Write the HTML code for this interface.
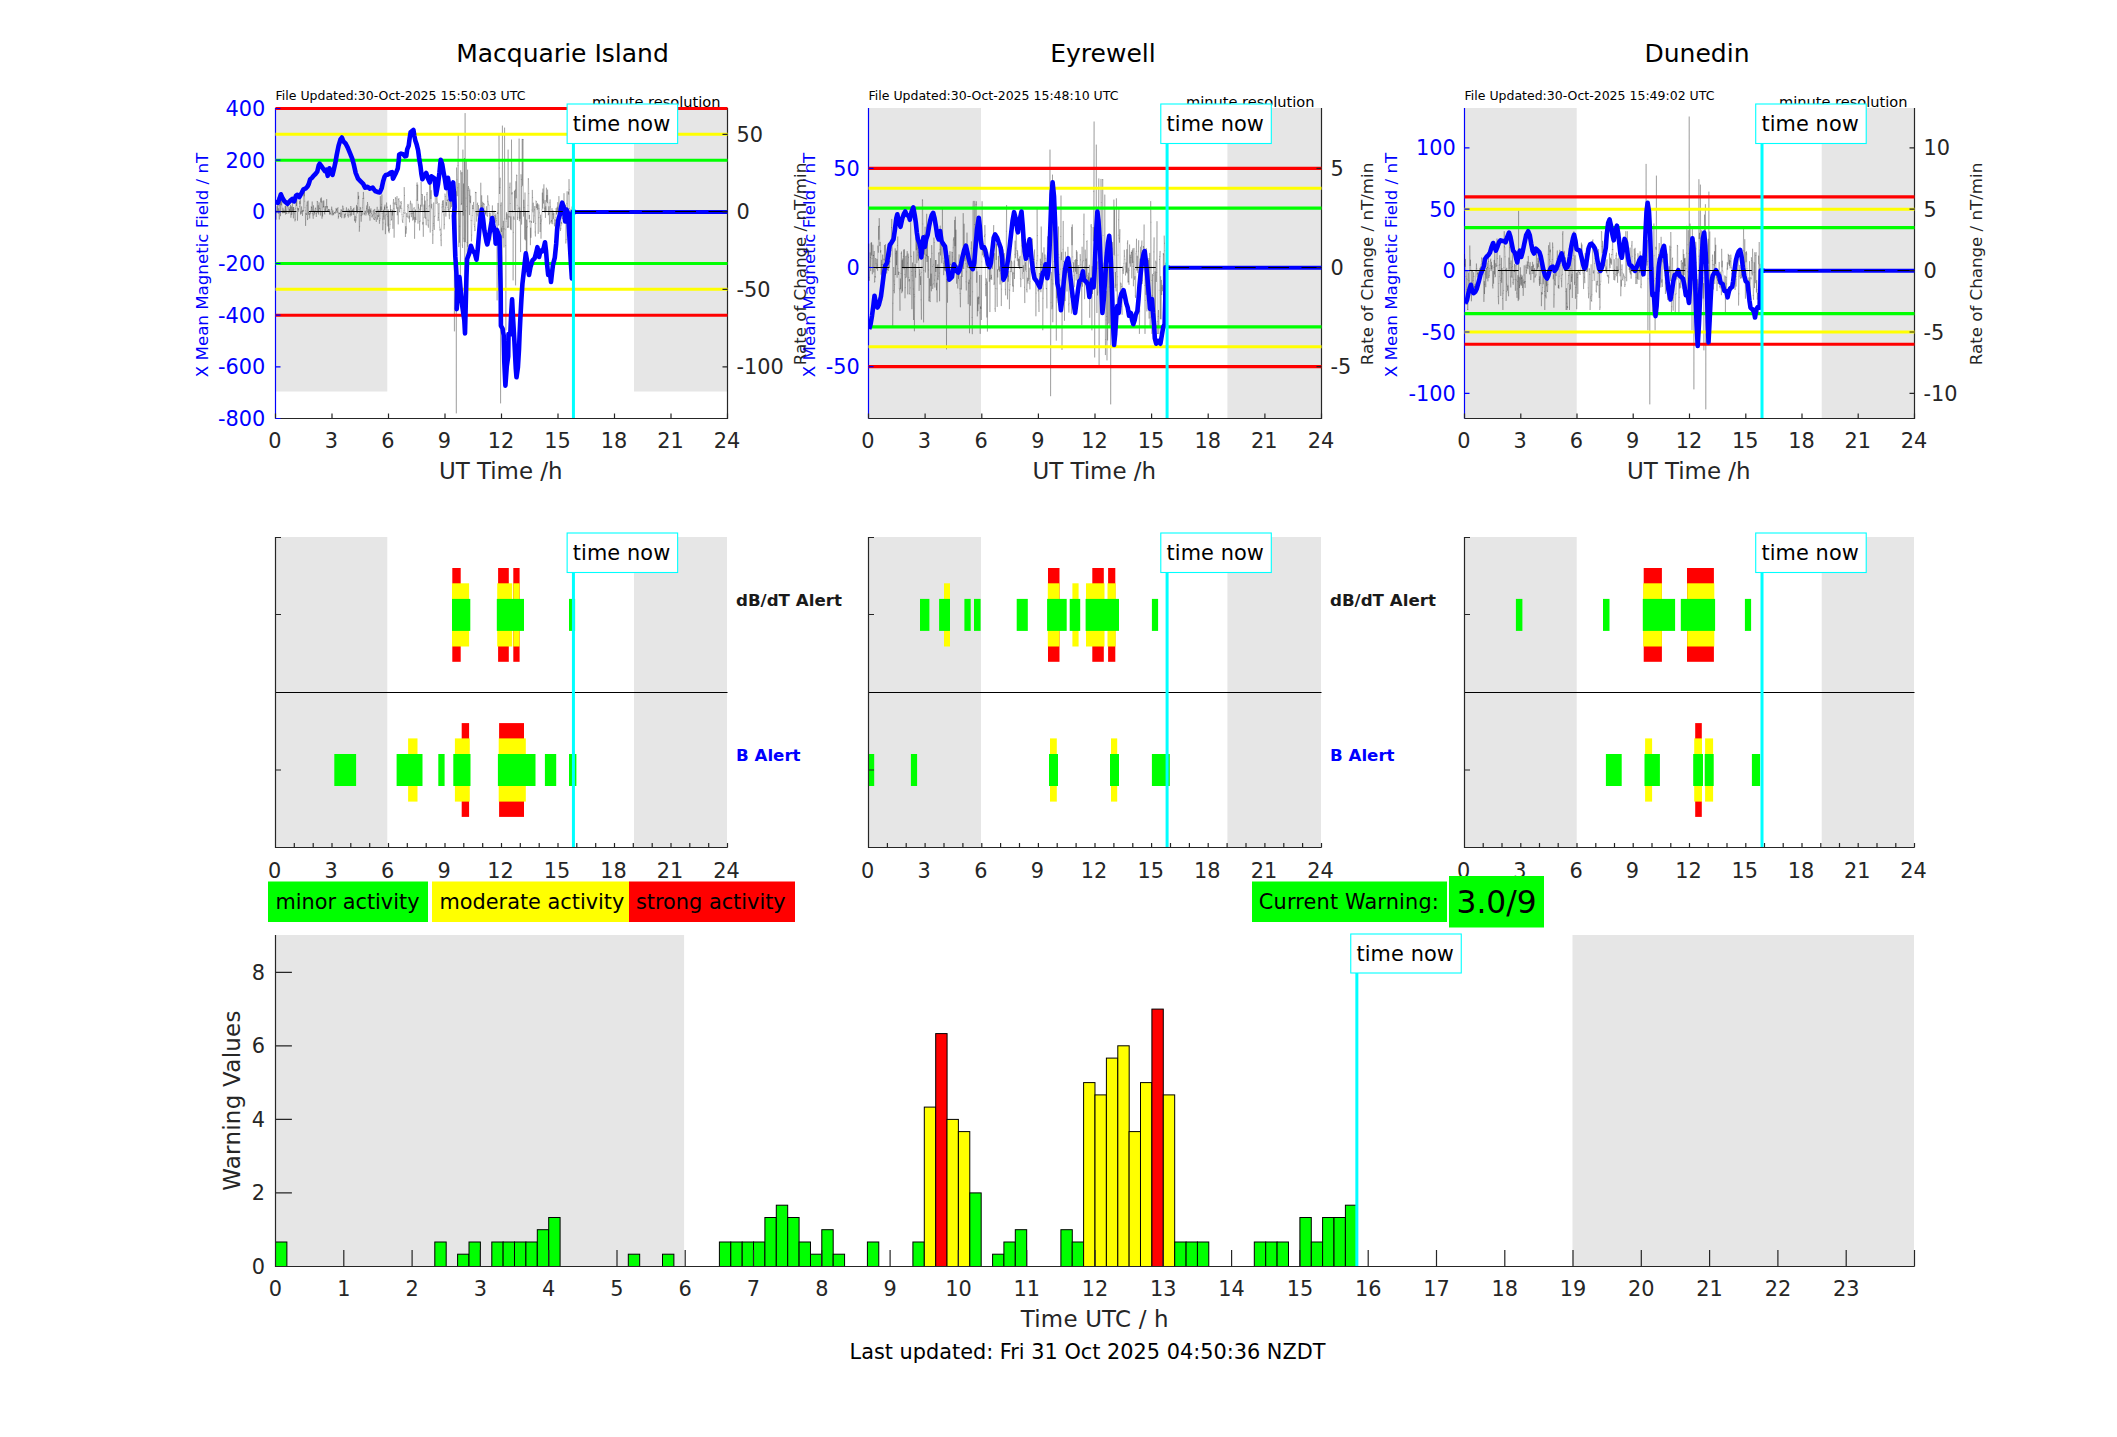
<!DOCTYPE html>
<html lang="en"><head><meta charset="utf-8"><title>Geomagnetic activity</title>
<style>html,body{margin:0;padding:0;background:#fff}body{width:2117px;height:1437px;overflow:hidden}svg text{white-space:pre}</style>
</head><body>
<svg width="2117" height="1437" viewBox="0 0 2117 1437" font-family='"DejaVu Sans","Liberation Sans",sans-serif' style="display:block">
<rect x="275" y="108" width="112.3" height="283.5" fill="#e6e6e6"/>
<rect x="634.0" y="108" width="93.0" height="283.5" fill="#e6e6e6"/>
<clipPath id="cp0"><rect x="275" y="106" width="453" height="312"/></clipPath>
<path d="M275.5 418.5H727.5V108" fill="none" stroke="#262626" stroke-width="1.2"/>
<path d="M275.5 108V418.5" fill="none" stroke="#0000ff" stroke-width="1.2"/>
<path d="M275.5 418.5v-5.0M332.0 418.5v-5.0M388.5 418.5v-5.0M445.0 418.5v-5.0M501.5 418.5v-5.0M558.0 418.5v-5.0M614.5 418.5v-5.0M671.0 418.5v-5.0M727.5 418.5v-5.0" stroke="#262626" stroke-width="1.2" fill="none"/>
<g clip-path="url(#cp0)">
<path d="M275.5 204.7L275.8 213.0M276.1 219.3L276.4 210.9M276.8 212.1L277.1 206.6M277.4 210.8L277.7 205.7M278.0 200.6L278.3 213.4M278.6 208.7L279.0 210.6M279.3 219.1L279.6 205.4M279.9 204.6L280.2 202.1M280.5 215.8L280.8 195.4M281.1 204.0L281.5 205.0M281.8 200.7L282.1 212.1M282.4 212.6L282.7 213.0M283.0 208.1L283.3 212.6M283.7 212.3L284.0 210.0M284.3 211.9L284.6 212.7M284.9 212.3L285.2 206.5M285.5 214.2L285.9 206.0M286.2 210.2L286.5 213.1M286.8 213.7L287.1 211.4M287.4 206.3L287.7 206.2M288.1 205.0L288.4 208.1M288.7 213.0L289.0 213.0M289.3 209.3L289.6 211.9M289.9 207.1L290.3 211.1M290.6 205.2L290.9 217.3M291.2 214.4L291.5 206.8M291.8 214.2L292.1 210.1M292.4 199.7L292.8 211.5M293.1 207.6L293.4 218.0M293.7 207.4L294.0 209.6M294.3 212.1L294.6 213.8M295.0 221.0L295.3 219.6M295.6 208.7L295.9 203.1M296.2 200.7L296.5 205.7M296.8 199.8L297.2 207.9M297.5 220.3L297.8 208.5M298.1 209.4L298.4 208.7M298.7 211.4L299.0 209.0M299.4 206.7L299.7 201.5M300.0 203.7L300.3 198.3M300.6 214.2L300.9 211.8M301.2 213.3L301.6 206.8M301.9 211.4L302.2 211.3M302.5 215.5L302.8 210.3M303.1 211.5L303.4 210.5M303.7 192.3L304.1 195.9M304.4 192.3L304.7 201.2M305.0 207.7L305.3 210.8M305.6 225.5L305.9 213.5M306.3 214.5L306.6 214.2M306.9 205.7L307.2 201.9M307.5 219.7L307.8 218.8M308.1 201.0L308.5 212.6M308.8 214.6L309.1 213.1M309.4 213.6L309.7 218.1M310.0 214.4L310.3 212.6M310.7 213.3L311.0 210.4M311.3 206.8L311.6 207.5M311.9 210.5L312.2 201.9M312.5 213.6L312.9 215.1M313.2 218.4L313.5 205.7M313.8 210.9L314.1 214.9M314.4 212.2L314.7 213.0M315.0 210.5L315.4 208.3M315.7 208.0L316.0 213.7M316.3 216.6L316.6 213.7M316.9 212.3L317.2 201.3M317.6 201.9L317.9 212.3M318.2 205.6L318.5 214.1M318.8 210.2L319.1 202.8M319.4 208.3L319.8 208.4M320.1 211.6L320.4 215.1M320.7 198.8L321.0 201.9M321.3 197.8L321.6 202.2M322.0 218.3L322.3 212.1M322.6 216.1L322.9 201.2M323.2 207.2L323.5 206.6M323.8 200.8L324.2 206.9M324.5 213.0L324.8 214.1M325.1 209.7L325.4 206.6M325.7 211.4L326.0 210.3M326.3 206.5L326.7 199.5M327.0 208.0L327.3 206.4M327.6 210.8L327.9 211.4M328.2 210.5L328.5 209.3M328.9 210.3L329.2 209.4M329.5 214.2L329.8 211.0M330.1 213.1L330.4 213.0M330.7 213.6L331.1 214.8M331.4 209.4L331.7 207.0M332.0 209.2L332.3 211.9M332.6 215.0L332.9 210.7M333.3 213.4L333.6 214.8M333.9 213.6L334.2 213.1M334.5 212.6L334.8 212.4M335.1 212.2L335.5 213.2M335.8 211.4L336.1 208.3M336.4 210.4L336.7 209.3M337.0 212.6L337.3 211.8M337.6 208.3L338.0 207.7M338.3 218.2L338.6 216.4M338.9 213.1L339.2 213.2M339.5 213.2L339.8 213.8M340.2 213.0L340.5 216.5M340.8 211.3L341.1 209.5M341.4 210.6L341.7 217.8M342.0 214.1L342.4 210.4M342.7 206.0L343.0 206.8M343.3 209.2L343.6 208.9M343.9 210.9L344.2 217.9M344.6 214.9L344.9 214.5M345.2 217.0L345.5 214.3M345.8 213.3L346.1 210.5M346.4 207.7L346.8 209.2M347.1 210.9L347.4 211.0M347.7 215.2L348.0 215.0M348.3 217.2L348.6 209.0M348.9 211.7L349.3 212.2M349.6 210.3L349.9 214.4M350.2 216.1L350.5 214.1M350.8 206.4L351.1 208.5M351.5 215.2L351.8 210.7M352.1 210.5L352.4 210.8M352.7 211.4L353.0 209.4M353.3 214.6L353.7 208.4M354.0 208.0L354.3 211.9M354.6 220.8L354.9 219.5M355.2 216.3L355.5 222.3M355.9 220.2L356.2 217.3M356.5 205.3L356.8 211.2M357.1 206.8L357.4 213.0M357.7 203.2L358.1 192.3M358.4 198.7L358.7 196.2M359.0 209.3L359.3 231.3M359.6 226.8L359.9 212.4M360.2 207.3L360.6 208.3M360.9 215.5L361.2 221.3M361.5 215.8L361.8 211.1M362.1 214.8L362.4 207.8M362.8 198.7L363.1 198.3M363.4 192.3L363.7 198.2M364.0 213.6L364.3 214.8M364.6 213.4L365.0 211.5M365.3 211.0L365.6 212.1M365.9 215.1L366.2 213.6M366.5 208.3L366.8 205.8M367.2 212.3L367.5 202.4M367.8 204.8L368.1 211.6M368.4 214.9L368.7 209.6M369.0 213.4L369.4 206.7M369.7 215.6L370.0 220.3M370.3 210.1L370.6 212.3M370.9 208.7L371.2 211.3M371.5 213.5L371.9 216.9M372.2 217.0L372.5 215.6M372.8 214.7L373.1 211.3M373.4 210.2L373.7 218.6M374.1 219.5L374.4 219.6M374.7 209.3L375.0 213.4M375.3 213.6L375.6 217.7M375.9 219.0L376.3 221.5M376.6 212.5L376.9 211.2M377.2 207.2L377.5 219.2M377.8 215.9L378.1 215.9M378.5 216.5L378.8 210.0M379.1 215.2L379.4 223.4M379.7 220.4L380.0 218.6M380.3 196.5L380.7 210.9M381.0 206.9L381.3 210.0M381.6 204.3L381.9 194.8M382.2 213.6L382.5 219.1M382.8 229.9L383.2 222.9M383.5 210.1L383.8 216.2M384.1 219.2L384.4 207.0M384.7 209.4L385.0 205.0M385.4 233.8L385.7 224.1M386.0 215.2L386.3 214.5M386.6 202.9L386.9 207.7M387.2 207.0L387.6 216.3M387.9 226.0L388.2 209.8M388.5 231.1L388.8 212.2M389.1 232.8L389.4 229.9M389.8 228.6L390.1 224.3M390.4 205.2L390.7 211.0M391.0 209.5L391.3 220.2M391.6 219.5L392.0 211.3M392.3 215.1L392.6 210.1M392.9 228.4L393.2 203.1M393.5 199.4L393.8 208.4M394.1 237.3L394.5 211.8M394.8 202.9L395.1 204.3M395.4 197.6L395.7 198.2M396.0 202.7L396.3 204.4M396.7 208.4L397.0 196.5M397.3 214.9L397.6 211.9M397.9 207.6L398.2 224.0M398.5 199.3L398.9 198.6M399.2 201.1L399.5 211.5M399.8 212.0L400.1 205.8M400.4 208.4L400.7 202.6M401.1 201.4L401.4 203.3M401.7 208.6L402.0 214.4M402.3 220.1L402.6 221.9M402.9 222.5L403.3 216.3M403.6 212.6L403.9 210.3M404.2 187.5L404.5 195.5M404.8 213.3L405.1 212.8M405.4 236.6L405.8 226.6M406.1 233.3L406.4 228.9M406.7 213.5L407.0 216.6M407.3 217.1L407.6 206.6M408.0 204.3L408.3 205.7M408.6 207.8L408.9 218.2M409.2 216.0L409.5 222.0M409.8 214.1L410.2 204.0M410.5 201.1L410.8 203.2M411.1 213.8L411.4 216.8M411.7 213.5L412.0 204.0M412.4 210.1L412.7 220.2M413.0 213.5L413.3 212.2M413.6 219.3L413.9 208.3M414.2 207.6L414.6 238.4M414.9 217.3L415.2 222.0M415.5 209.9L415.8 219.3M416.1 219.5L416.4 200.1M416.7 185.5L417.1 182.8M417.4 200.5L417.7 185.0M418.0 223.3L418.3 204.2M418.6 207.3L418.9 208.6M419.3 209.4L419.6 230.1M419.9 221.5L420.2 221.0M420.5 205.2L420.8 210.2M421.1 182.3L421.5 194.6M421.8 206.2L422.1 199.1M422.4 194.5L422.7 224.1M423.0 222.4L423.3 236.4M423.7 217.9L424.0 205.0M424.3 211.8L424.6 196.3M424.9 217.5L425.2 201.0M425.5 218.2L425.9 218.0M426.2 224.9L426.5 208.5M426.8 194.6L427.1 192.4M427.4 200.1L427.7 220.1M428.0 225.1L428.4 227.3M428.7 220.2L429.0 206.1M429.3 205.4L429.6 180.9M429.9 206.9L430.2 232.2M430.6 180.6L430.9 198.6M431.2 190.7L431.5 208.0M431.8 204.2L432.1 209.0M432.4 230.4L432.8 243.6M433.1 234.9L433.4 223.4M433.7 202.8L434.0 225.8M434.3 229.5L434.6 216.3M435.0 216.1L435.3 179.4M435.6 179.3L435.9 194.7M436.2 203.5L436.5 194.5M436.8 184.6L437.1 194.9M437.5 202.3L437.8 204.2M438.1 220.6L438.4 217.7M438.7 213.7L439.0 203.5M439.3 219.9L439.7 227.2M440.0 230.1L440.3 229.1M440.6 235.4L440.9 240.1M441.2 245.8L441.5 234.2M441.9 207.1L442.2 204.6M442.5 201.0L442.8 212.4M443.1 206.7L443.4 200.6M443.7 214.9L444.1 229.0M444.4 224.3L444.7 209.8M445.0 194.0L445.3 196.4M445.6 207.8L445.9 216.2M446.3 202.4L446.6 205.4M446.9 181.4L447.2 200.7M447.5 200.0L447.8 207.6M448.1 209.5L448.4 211.7M448.8 199.2L449.1 215.0M449.4 218.8L449.7 209.0M450.0 193.0L450.3 203.0M450.6 208.2L451.0 190.6M451.3 202.8L451.6 206.6M451.9 200.1L452.2 190.1M452.5 197.1L452.8 198.2M453.2 207.9L453.5 199.0M453.8 212.1L454.1 203.9M454.4 331.0L454.7 212.3M455.0 269.8L455.4 237.8M455.7 199.4L456.0 191.6M456.3 413.0L456.6 167.9M456.9 179.8L457.2 195.8M457.6 187.8L457.9 165.6M458.2 135.6L458.5 213.9M458.8 246.7L459.1 183.4M459.4 242.3L459.7 226.2M460.1 212.2L460.4 300.0M460.7 170.7L461.0 173.8M461.3 204.7L461.6 203.5M461.9 172.4L462.3 245.1M462.6 247.6L462.9 150.0M463.2 215.2L463.5 183.9M463.8 238.2L464.1 241.7M464.5 158.4L464.8 283.8M465.1 113.5L465.4 241.8M465.7 210.2L466.0 198.1M466.3 160.7L466.7 206.6M467.0 242.6L467.3 283.8M467.6 170.0L467.9 246.4M468.2 190.4L468.5 186.5M468.9 188.6L469.2 195.2M469.5 214.7L469.8 189.8M470.1 201.1L470.4 202.8M470.7 196.1L471.0 220.6M471.4 241.1L471.7 235.1M472.0 220.8L472.3 215.5M472.6 205.3L472.9 208.7M473.2 208.8L473.6 202.3M473.9 211.0L474.2 224.3M474.5 226.3L474.8 230.6M475.1 230.4L475.4 192.2M475.8 192.8L476.1 192.4M476.4 213.1L476.7 221.2M477.0 214.7L477.3 204.3M477.6 203.0L478.0 216.0M478.3 211.6L478.6 205.4M478.9 244.8L479.2 222.0M479.5 216.6L479.8 222.3M480.2 219.9L480.5 209.2M480.8 183.1L481.1 207.7M481.4 205.9L481.7 195.7M482.0 209.7L482.3 207.0M482.7 202.2L483.0 224.5M483.3 208.8L483.6 203.4M483.9 204.1L484.2 204.2M484.5 210.9L484.9 210.3M485.2 213.7L485.5 211.9M485.8 215.0L486.1 210.9M486.4 206.6L486.7 212.5M487.1 215.5L487.4 216.4M487.7 195.7L488.0 201.4M488.3 203.0L488.6 204.5M488.9 205.5L489.3 213.7M489.6 219.8L489.9 215.7M490.2 213.1L490.5 216.6M490.8 239.9L491.1 227.1M491.5 224.9L491.8 221.6M492.1 211.9L492.4 205.8M492.7 216.2L493.0 221.8M493.3 221.9L493.6 217.9M494.0 211.0L494.3 224.7M494.6 219.9L494.9 215.6M495.2 215.9L495.5 222.3M495.8 213.9L496.2 218.3M496.5 220.7L496.8 228.1M497.1 300.0L497.4 212.7M497.7 213.5L498.0 203.3M498.4 225.2L498.7 224.9M499.0 135.0L499.3 168.0M499.6 193.6L499.9 187.5M500.2 178.1L500.6 403.0M500.9 205.7L501.2 202.8M501.5 231.6L501.8 228.0M502.1 289.2L502.4 126.0M502.8 226.5L503.1 237.8M503.4 221.2L503.7 228.9M504.0 247.1L504.3 228.8M504.6 128.0L504.9 218.9M505.3 229.8L505.6 245.7M505.9 330.0L506.2 221.3M506.5 212.6L506.8 219.2M507.1 214.1L507.5 227.6M507.8 226.5L508.1 150.0M508.4 211.4L508.7 227.5M509.0 216.3L509.3 217.1M509.7 187.5L510.0 183.0M510.3 203.4L510.6 229.0M510.9 216.8L511.2 229.8M511.5 140.0L511.9 194.0M512.2 192.7L512.5 210.7M512.8 212.2L513.1 280.0M513.4 232.3L513.7 216.9M514.1 219.3L514.4 191.3M514.7 209.8L515.0 190.8M515.3 189.9L515.6 285.0M515.9 181.6L516.2 197.9M516.6 175.0L516.9 175.6M517.2 205.3L517.5 219.5M517.8 217.3L518.1 211.8M518.4 208.5L518.8 207.0M519.1 139.0L519.4 220.8M519.7 207.8L520.0 218.5M520.3 212.4L520.6 251.7M521.0 174.7L521.3 179.4M521.6 224.2L521.9 186.6M522.2 139.3L522.5 185.4M522.8 139.5L523.2 139.6M523.5 216.2L523.8 200.1M524.1 207.7L524.4 213.9M524.7 239.0L525.0 192.9M525.4 240.0L525.7 212.1M526.0 219.8L526.3 261.1M526.6 220.2L526.9 254.6M527.2 227.4L527.5 226.6M527.9 205.3L528.2 178.8M528.5 178.8L528.8 193.6M529.1 218.8L529.4 215.3M529.7 221.9L530.1 220.9M530.4 244.8L530.7 228.1M531.0 237.4L531.3 221.5M531.6 222.4L531.9 210.0M532.3 190.3L532.6 197.7M532.9 211.9L533.2 203.1M533.5 222.6L533.8 221.1M534.1 215.9L534.5 209.8M534.8 206.4L535.1 232.0M535.4 236.1L535.7 223.3M536.0 201.0L536.3 201.4M536.7 207.7L537.0 204.6M537.3 209.5L537.6 203.3M537.9 208.3L538.2 233.5M538.5 217.8L538.8 204.8M539.2 208.8L539.5 212.9M539.8 217.5L540.1 231.7M540.4 223.4L540.7 215.1M541.0 238.3L541.4 221.0M541.7 219.2L542.0 209.7M542.3 193.0L542.6 208.3M542.9 189.0L543.2 199.9M543.6 203.2L543.9 184.7M544.2 207.9L544.5 212.0M544.8 208.5L545.1 200.5M545.4 217.5L545.8 206.7M546.1 211.2L546.4 188.1M546.7 201.4L547.0 195.5M547.3 202.7L547.6 189.9M548.0 203.0L548.3 214.9M548.6 214.0L548.9 206.7M549.2 213.8L549.5 224.0M549.8 202.8L550.1 199.8M550.5 206.9L550.8 221.9M551.1 223.1L551.4 220.5M551.7 221.2L552.0 208.5M552.3 223.8L552.7 214.2M553.0 210.8L553.3 214.0M553.6 218.7L553.9 213.2M554.2 223.8L554.5 225.9M554.9 219.5L555.2 220.6M555.5 230.8L555.8 217.6M556.1 208.4L556.4 214.2M556.7 213.2L557.1 207.1M557.4 211.9L557.7 202.6M558.0 208.8L558.3 212.3M558.6 212.6L558.9 196.5M559.3 212.6L559.6 218.3M559.9 215.2L560.2 215.5M560.5 230.5L560.8 228.7M561.1 225.3L561.4 222.3M561.8 223.9L562.1 217.9M562.4 218.7L562.7 213.5M563.0 215.0L563.3 206.1M563.6 213.8L564.0 193.6M564.3 208.6L564.6 216.8M564.9 210.4L565.2 211.6M565.5 205.1L565.8 243.1M566.2 239.4L566.5 223.6M566.8 203.6L567.1 191.7M567.4 208.6L567.7 219.9M568.0 218.8L568.4 192.0M568.7 194.2L569.0 179.5M569.3 189.7L569.6 208.6M569.9 209.0L570.2 212.6M570.6 216.0L570.9 214.8M571.2 209.9L571.5 220.1M571.8 213.2L572.1 206.9M572.4 224.0L572.7 217.0" fill="none" stroke="#000" stroke-opacity="0.24" stroke-width="0.9" stroke-linecap="round"/>
<path d="M275.8 213.0L276.1 219.3M276.4 210.9L276.8 212.1M277.1 206.6L277.4 210.8M277.7 205.7L278.0 200.6M278.3 213.4L278.6 208.7M279.0 210.6L279.3 219.1M279.6 205.4L279.9 204.6M280.2 202.1L280.5 215.8M280.8 195.4L281.1 204.0M281.5 205.0L281.8 200.7M282.1 212.1L282.4 212.6M282.7 213.0L283.0 208.1M283.3 212.6L283.7 212.3M284.0 210.0L284.3 211.9M284.6 212.7L284.9 212.3M285.2 206.5L285.5 214.2M285.9 206.0L286.2 210.2M286.5 213.1L286.8 213.7M287.1 211.4L287.4 206.3M287.7 206.2L288.1 205.0M288.4 208.1L288.7 213.0M289.0 213.0L289.3 209.3M289.6 211.9L289.9 207.1M290.3 211.1L290.6 205.2M290.9 217.3L291.2 214.4M291.5 206.8L291.8 214.2M292.1 210.1L292.4 199.7M292.8 211.5L293.1 207.6M293.4 218.0L293.7 207.4M294.0 209.6L294.3 212.1M294.6 213.8L295.0 221.0M295.3 219.6L295.6 208.7M295.9 203.1L296.2 200.7M296.5 205.7L296.8 199.8M297.2 207.9L297.5 220.3M297.8 208.5L298.1 209.4M298.4 208.7L298.7 211.4M299.0 209.0L299.4 206.7M299.7 201.5L300.0 203.7M300.3 198.3L300.6 214.2M300.9 211.8L301.2 213.3M301.6 206.8L301.9 211.4M302.2 211.3L302.5 215.5M302.8 210.3L303.1 211.5M303.4 210.5L303.7 192.3M304.1 195.9L304.4 192.3M304.7 201.2L305.0 207.7M305.3 210.8L305.6 225.5M305.9 213.5L306.3 214.5M306.6 214.2L306.9 205.7M307.2 201.9L307.5 219.7M307.8 218.8L308.1 201.0M308.5 212.6L308.8 214.6M309.1 213.1L309.4 213.6M309.7 218.1L310.0 214.4M310.3 212.6L310.7 213.3M311.0 210.4L311.3 206.8M311.6 207.5L311.9 210.5M312.2 201.9L312.5 213.6M312.9 215.1L313.2 218.4M313.5 205.7L313.8 210.9M314.1 214.9L314.4 212.2M314.7 213.0L315.0 210.5M315.4 208.3L315.7 208.0M316.0 213.7L316.3 216.6M316.6 213.7L316.9 212.3M317.2 201.3L317.6 201.9M317.9 212.3L318.2 205.6M318.5 214.1L318.8 210.2M319.1 202.8L319.4 208.3M319.8 208.4L320.1 211.6M320.4 215.1L320.7 198.8M321.0 201.9L321.3 197.8M321.6 202.2L322.0 218.3M322.3 212.1L322.6 216.1M322.9 201.2L323.2 207.2M323.5 206.6L323.8 200.8M324.2 206.9L324.5 213.0M324.8 214.1L325.1 209.7M325.4 206.6L325.7 211.4M326.0 210.3L326.3 206.5M326.7 199.5L327.0 208.0M327.3 206.4L327.6 210.8M327.9 211.4L328.2 210.5M328.5 209.3L328.9 210.3M329.2 209.4L329.5 214.2M329.8 211.0L330.1 213.1M330.4 213.0L330.7 213.6M331.1 214.8L331.4 209.4M331.7 207.0L332.0 209.2M332.3 211.9L332.6 215.0M332.9 210.7L333.3 213.4M333.6 214.8L333.9 213.6M334.2 213.1L334.5 212.6M334.8 212.4L335.1 212.2M335.5 213.2L335.8 211.4M336.1 208.3L336.4 210.4M336.7 209.3L337.0 212.6M337.3 211.8L337.6 208.3M338.0 207.7L338.3 218.2M338.6 216.4L338.9 213.1M339.2 213.2L339.5 213.2M339.8 213.8L340.2 213.0M340.5 216.5L340.8 211.3M341.1 209.5L341.4 210.6M341.7 217.8L342.0 214.1M342.4 210.4L342.7 206.0M343.0 206.8L343.3 209.2M343.6 208.9L343.9 210.9M344.2 217.9L344.6 214.9M344.9 214.5L345.2 217.0M345.5 214.3L345.8 213.3M346.1 210.5L346.4 207.7M346.8 209.2L347.1 210.9M347.4 211.0L347.7 215.2M348.0 215.0L348.3 217.2M348.6 209.0L348.9 211.7M349.3 212.2L349.6 210.3M349.9 214.4L350.2 216.1M350.5 214.1L350.8 206.4M351.1 208.5L351.5 215.2M351.8 210.7L352.1 210.5M352.4 210.8L352.7 211.4M353.0 209.4L353.3 214.6M353.7 208.4L354.0 208.0M354.3 211.9L354.6 220.8M354.9 219.5L355.2 216.3M355.5 222.3L355.9 220.2M356.2 217.3L356.5 205.3M356.8 211.2L357.1 206.8M357.4 213.0L357.7 203.2M358.1 192.3L358.4 198.7M358.7 196.2L359.0 209.3M359.3 231.3L359.6 226.8M359.9 212.4L360.2 207.3M360.6 208.3L360.9 215.5M361.2 221.3L361.5 215.8M361.8 211.1L362.1 214.8M362.4 207.8L362.8 198.7M363.1 198.3L363.4 192.3M363.7 198.2L364.0 213.6M364.3 214.8L364.6 213.4M365.0 211.5L365.3 211.0M365.6 212.1L365.9 215.1M366.2 213.6L366.5 208.3M366.8 205.8L367.2 212.3M367.5 202.4L367.8 204.8M368.1 211.6L368.4 214.9M368.7 209.6L369.0 213.4M369.4 206.7L369.7 215.6M370.0 220.3L370.3 210.1M370.6 212.3L370.9 208.7M371.2 211.3L371.5 213.5M371.9 216.9L372.2 217.0M372.5 215.6L372.8 214.7M373.1 211.3L373.4 210.2M373.7 218.6L374.1 219.5M374.4 219.6L374.7 209.3M375.0 213.4L375.3 213.6M375.6 217.7L375.9 219.0M376.3 221.5L376.6 212.5M376.9 211.2L377.2 207.2M377.5 219.2L377.8 215.9M378.1 215.9L378.5 216.5M378.8 210.0L379.1 215.2M379.4 223.4L379.7 220.4M380.0 218.6L380.3 196.5M380.7 210.9L381.0 206.9M381.3 210.0L381.6 204.3M381.9 194.8L382.2 213.6M382.5 219.1L382.8 229.9M383.2 222.9L383.5 210.1M383.8 216.2L384.1 219.2M384.4 207.0L384.7 209.4M385.0 205.0L385.4 233.8M385.7 224.1L386.0 215.2M386.3 214.5L386.6 202.9M386.9 207.7L387.2 207.0M387.6 216.3L387.9 226.0M388.2 209.8L388.5 231.1M388.8 212.2L389.1 232.8M389.4 229.9L389.8 228.6M390.1 224.3L390.4 205.2M390.7 211.0L391.0 209.5M391.3 220.2L391.6 219.5M392.0 211.3L392.3 215.1M392.6 210.1L392.9 228.4M393.2 203.1L393.5 199.4M393.8 208.4L394.1 237.3M394.5 211.8L394.8 202.9M395.1 204.3L395.4 197.6M395.7 198.2L396.0 202.7M396.3 204.4L396.7 208.4M397.0 196.5L397.3 214.9M397.6 211.9L397.9 207.6M398.2 224.0L398.5 199.3M398.9 198.6L399.2 201.1M399.5 211.5L399.8 212.0M400.1 205.8L400.4 208.4M400.7 202.6L401.1 201.4M401.4 203.3L401.7 208.6M402.0 214.4L402.3 220.1M402.6 221.9L402.9 222.5M403.3 216.3L403.6 212.6M403.9 210.3L404.2 187.5M404.5 195.5L404.8 213.3M405.1 212.8L405.4 236.6M405.8 226.6L406.1 233.3M406.4 228.9L406.7 213.5M407.0 216.6L407.3 217.1M407.6 206.6L408.0 204.3M408.3 205.7L408.6 207.8M408.9 218.2L409.2 216.0M409.5 222.0L409.8 214.1M410.2 204.0L410.5 201.1M410.8 203.2L411.1 213.8M411.4 216.8L411.7 213.5M412.0 204.0L412.4 210.1M412.7 220.2L413.0 213.5M413.3 212.2L413.6 219.3M413.9 208.3L414.2 207.6M414.6 238.4L414.9 217.3M415.2 222.0L415.5 209.9M415.8 219.3L416.1 219.5M416.4 200.1L416.7 185.5M417.1 182.8L417.4 200.5M417.7 185.0L418.0 223.3M418.3 204.2L418.6 207.3M418.9 208.6L419.3 209.4M419.6 230.1L419.9 221.5M420.2 221.0L420.5 205.2M420.8 210.2L421.1 182.3M421.5 194.6L421.8 206.2M422.1 199.1L422.4 194.5M422.7 224.1L423.0 222.4M423.3 236.4L423.7 217.9M424.0 205.0L424.3 211.8M424.6 196.3L424.9 217.5M425.2 201.0L425.5 218.2M425.9 218.0L426.2 224.9M426.5 208.5L426.8 194.6M427.1 192.4L427.4 200.1M427.7 220.1L428.0 225.1M428.4 227.3L428.7 220.2M429.0 206.1L429.3 205.4M429.6 180.9L429.9 206.9M430.2 232.2L430.6 180.6M430.9 198.6L431.2 190.7M431.5 208.0L431.8 204.2M432.1 209.0L432.4 230.4M432.8 243.6L433.1 234.9M433.4 223.4L433.7 202.8M434.0 225.8L434.3 229.5M434.6 216.3L435.0 216.1M435.3 179.4L435.6 179.3M435.9 194.7L436.2 203.5M436.5 194.5L436.8 184.6M437.1 194.9L437.5 202.3M437.8 204.2L438.1 220.6M438.4 217.7L438.7 213.7M439.0 203.5L439.3 219.9M439.7 227.2L440.0 230.1M440.3 229.1L440.6 235.4M440.9 240.1L441.2 245.8M441.5 234.2L441.9 207.1M442.2 204.6L442.5 201.0M442.8 212.4L443.1 206.7M443.4 200.6L443.7 214.9M444.1 229.0L444.4 224.3M444.7 209.8L445.0 194.0M445.3 196.4L445.6 207.8M445.9 216.2L446.3 202.4M446.6 205.4L446.9 181.4M447.2 200.7L447.5 200.0M447.8 207.6L448.1 209.5M448.4 211.7L448.8 199.2M449.1 215.0L449.4 218.8M449.7 209.0L450.0 193.0M450.3 203.0L450.6 208.2M451.0 190.6L451.3 202.8M451.6 206.6L451.9 200.1M452.2 190.1L452.5 197.1M452.8 198.2L453.2 207.9M453.5 199.0L453.8 212.1M454.1 203.9L454.4 331.0M454.7 212.3L455.0 269.8M455.4 237.8L455.7 199.4M456.0 191.6L456.3 413.0M456.6 167.9L456.9 179.8M457.2 195.8L457.6 187.8M457.9 165.6L458.2 135.6M458.5 213.9L458.8 246.7M459.1 183.4L459.4 242.3M459.7 226.2L460.1 212.2M460.4 300.0L460.7 170.7M461.0 173.8L461.3 204.7M461.6 203.5L461.9 172.4M462.3 245.1L462.6 247.6M462.9 150.0L463.2 215.2M463.5 183.9L463.8 238.2M464.1 241.7L464.5 158.4M464.8 283.8L465.1 113.5M465.4 241.8L465.7 210.2M466.0 198.1L466.3 160.7M466.7 206.6L467.0 242.6M467.3 283.8L467.6 170.0M467.9 246.4L468.2 190.4M468.5 186.5L468.9 188.6M469.2 195.2L469.5 214.7M469.8 189.8L470.1 201.1M470.4 202.8L470.7 196.1M471.0 220.6L471.4 241.1M471.7 235.1L472.0 220.8M472.3 215.5L472.6 205.3M472.9 208.7L473.2 208.8M473.6 202.3L473.9 211.0M474.2 224.3L474.5 226.3M474.8 230.6L475.1 230.4M475.4 192.2L475.8 192.8M476.1 192.4L476.4 213.1M476.7 221.2L477.0 214.7M477.3 204.3L477.6 203.0M478.0 216.0L478.3 211.6M478.6 205.4L478.9 244.8M479.2 222.0L479.5 216.6M479.8 222.3L480.2 219.9M480.5 209.2L480.8 183.1M481.1 207.7L481.4 205.9M481.7 195.7L482.0 209.7M482.3 207.0L482.7 202.2M483.0 224.5L483.3 208.8M483.6 203.4L483.9 204.1M484.2 204.2L484.5 210.9M484.9 210.3L485.2 213.7M485.5 211.9L485.8 215.0M486.1 210.9L486.4 206.6M486.7 212.5L487.1 215.5M487.4 216.4L487.7 195.7M488.0 201.4L488.3 203.0M488.6 204.5L488.9 205.5M489.3 213.7L489.6 219.8M489.9 215.7L490.2 213.1M490.5 216.6L490.8 239.9M491.1 227.1L491.5 224.9M491.8 221.6L492.1 211.9M492.4 205.8L492.7 216.2M493.0 221.8L493.3 221.9M493.6 217.9L494.0 211.0M494.3 224.7L494.6 219.9M494.9 215.6L495.2 215.9M495.5 222.3L495.8 213.9M496.2 218.3L496.5 220.7M496.8 228.1L497.1 300.0M497.4 212.7L497.7 213.5M498.0 203.3L498.4 225.2M498.7 224.9L499.0 135.0M499.3 168.0L499.6 193.6M499.9 187.5L500.2 178.1M500.6 403.0L500.9 205.7M501.2 202.8L501.5 231.6M501.8 228.0L502.1 289.2M502.4 126.0L502.8 226.5M503.1 237.8L503.4 221.2M503.7 228.9L504.0 247.1M504.3 228.8L504.6 128.0M504.9 218.9L505.3 229.8M505.6 245.7L505.9 330.0M506.2 221.3L506.5 212.6M506.8 219.2L507.1 214.1M507.5 227.6L507.8 226.5M508.1 150.0L508.4 211.4M508.7 227.5L509.0 216.3M509.3 217.1L509.7 187.5M510.0 183.0L510.3 203.4M510.6 229.0L510.9 216.8M511.2 229.8L511.5 140.0M511.9 194.0L512.2 192.7M512.5 210.7L512.8 212.2M513.1 280.0L513.4 232.3M513.7 216.9L514.1 219.3M514.4 191.3L514.7 209.8M515.0 190.8L515.3 189.9M515.6 285.0L515.9 181.6M516.2 197.9L516.6 175.0M516.9 175.6L517.2 205.3M517.5 219.5L517.8 217.3M518.1 211.8L518.4 208.5M518.8 207.0L519.1 139.0M519.4 220.8L519.7 207.8M520.0 218.5L520.3 212.4M520.6 251.7L521.0 174.7M521.3 179.4L521.6 224.2M521.9 186.6L522.2 139.3M522.5 185.4L522.8 139.5M523.2 139.6L523.5 216.2M523.8 200.1L524.1 207.7M524.4 213.9L524.7 239.0M525.0 192.9L525.4 240.0M525.7 212.1L526.0 219.8M526.3 261.1L526.6 220.2M526.9 254.6L527.2 227.4M527.5 226.6L527.9 205.3M528.2 178.8L528.5 178.8M528.8 193.6L529.1 218.8M529.4 215.3L529.7 221.9M530.1 220.9L530.4 244.8M530.7 228.1L531.0 237.4M531.3 221.5L531.6 222.4M531.9 210.0L532.3 190.3M532.6 197.7L532.9 211.9M533.2 203.1L533.5 222.6M533.8 221.1L534.1 215.9M534.5 209.8L534.8 206.4M535.1 232.0L535.4 236.1M535.7 223.3L536.0 201.0M536.3 201.4L536.7 207.7M537.0 204.6L537.3 209.5M537.6 203.3L537.9 208.3M538.2 233.5L538.5 217.8M538.8 204.8L539.2 208.8M539.5 212.9L539.8 217.5M540.1 231.7L540.4 223.4M540.7 215.1L541.0 238.3M541.4 221.0L541.7 219.2M542.0 209.7L542.3 193.0M542.6 208.3L542.9 189.0M543.2 199.9L543.6 203.2M543.9 184.7L544.2 207.9M544.5 212.0L544.8 208.5M545.1 200.5L545.4 217.5M545.8 206.7L546.1 211.2M546.4 188.1L546.7 201.4M547.0 195.5L547.3 202.7M547.6 189.9L548.0 203.0M548.3 214.9L548.6 214.0M548.9 206.7L549.2 213.8M549.5 224.0L549.8 202.8M550.1 199.8L550.5 206.9M550.8 221.9L551.1 223.1M551.4 220.5L551.7 221.2M552.0 208.5L552.3 223.8M552.7 214.2L553.0 210.8M553.3 214.0L553.6 218.7M553.9 213.2L554.2 223.8M554.5 225.9L554.9 219.5M555.2 220.6L555.5 230.8M555.8 217.6L556.1 208.4M556.4 214.2L556.7 213.2M557.1 207.1L557.4 211.9M557.7 202.6L558.0 208.8M558.3 212.3L558.6 212.6M558.9 196.5L559.3 212.6M559.6 218.3L559.9 215.2M560.2 215.5L560.5 230.5M560.8 228.7L561.1 225.3M561.4 222.3L561.8 223.9M562.1 217.9L562.4 218.7M562.7 213.5L563.0 215.0M563.3 206.1L563.6 213.8M564.0 193.6L564.3 208.6M564.6 216.8L564.9 210.4M565.2 211.6L565.5 205.1M565.8 243.1L566.2 239.4M566.5 223.6L566.8 203.6M567.1 191.7L567.4 208.6M567.7 219.9L568.0 218.8M568.4 192.0L568.7 194.2M569.0 179.5L569.3 189.7M569.6 208.6L569.9 209.0M570.2 212.6L570.6 216.0M570.9 214.8L571.2 209.9M571.5 220.1L571.8 213.2M572.1 206.9L572.4 224.0M572.7 217.0L573.1 229.8" fill="none" stroke="#000" stroke-opacity="0.24" stroke-width="0.9" stroke-linecap="round"/>
<path d="M275.5 108.5H727.5" stroke="#ff0000" stroke-width="3.1" fill="none"/>
<path d="M275.5 315.2H727.5" stroke="#ff0000" stroke-width="3.1" fill="none"/>
<path d="M275.5 134.3H727.5" stroke="#ffff00" stroke-width="3.1" fill="none"/>
<path d="M275.5 289.3H727.5" stroke="#ffff00" stroke-width="3.1" fill="none"/>
<path d="M275.5 160.2H727.5" stroke="#00ff00" stroke-width="3.1" fill="none"/>
<path d="M275.5 263.5H727.5" stroke="#00ff00" stroke-width="3.1" fill="none"/>
<path d="M574.1 212.0H727.5" stroke="#0000ff" stroke-width="4" fill="none"/>
<polyline points="275.7,202.3 278.0,202.8 279.5,198.6 280.9,194.3 282.3,197.6 284.2,200.9 287.5,203.8 290.4,200.5 292.2,199.0 294.1,201.4 296.0,195.7 297.4,194.8 299.3,197.1 301.7,192.9 303.6,189.1 305.5,188.6 307.4,186.7 308.8,183.9 310.2,179.2 312.1,177.7 313.5,175.8 315.4,174.0 317.3,171.6 318.7,165.4 319.7,163.7 321.6,166.4 323.5,169.2 324.9,171.1 326.5,169.7 327.7,175.8 329.4,168.3 331.1,173.0 332.5,174.9 333.9,169.2 335.3,163.1 336.7,155.0 338.6,145.6 340.5,139.4 341.9,137.5 343.4,141.3 345.7,143.7 347.6,147.4 350.0,153.1 352.3,158.8 353.8,164.5 355.7,173.0 358.0,178.7 360.4,181.1 363.2,183.9 365.1,187.7 367.5,186.7 369.9,188.6 372.7,187.7 375.1,191.0 377.4,191.9 379.8,192.4 381.7,188.1 383.1,181.5 384.5,176.8 385.9,174.9 388.3,174.4 390.7,172.5 392.1,172.1 393.0,178.7 394.5,175.8 395.9,173.0 397.8,168.3 398.7,160.7 399.2,154.5 401.1,153.6 403.0,154.1 404.9,156.4 406.3,156.0 407.2,149.3 408.7,145.6 409.6,138.5 410.6,132.3 413.4,129.9 414.3,135.6 415.3,140.4 416.7,144.6 418.1,150.3 419.1,157.9 420.5,166.4 421.4,174.0 422.4,179.2 424.1,175.8 426.2,173.0 428.1,178.7 429.8,182.5 431.4,176.3 433.3,177.7 434.7,178.7 436.1,194.8 438.0,184.4 439.4,173.0 440.7,159.8 442.3,164.5 443.7,173.0 445.1,180.6 446.2,188.1 447.9,177.7 449.4,186.3 450.8,199.5 452.2,184.4 453.2,182.5 454.1,195.7 454.6,207.1 453.9,215.9 454.6,236.7 455.3,256.2 456.4,272.9 457.0,292.4 456.7,309.1 458.1,292.4 459.5,277.1 460.9,292.4 462.3,306.3 464.3,320.2 465.0,333.4 465.7,306.3 466.4,278.5 467.1,259.0 469.2,253.4 470.9,245.8 472.7,250.7 474.8,253.4 476.5,259.7 477.6,250.7 479.0,234.0 480.3,218.7 481.7,209.6 483.1,218.7 484.5,231.2 486.6,242.3 487.3,244.4 488.7,238.1 490.4,228.4 492.2,218.0 493.6,227.0 495.0,234.0 495.7,243.7 496.8,229.8 498.4,234.0 499.5,236.7 500.1,264.6 500.7,292.4 500.9,325.8 502.6,328.6 503.7,335.5 504.3,362.0 505.4,385.6 506.8,366.1 508.2,356.4 508.5,334.1 510.3,334.1 511.2,313.3 512.1,299.3 513.0,317.4 514.4,341.1 515.8,368.9 516.5,377.3 517.9,367.5 519.0,349.4 519.6,334.1 520.4,317.4 521.4,299.3 522.4,284.0 523.5,274.3 524.9,261.8 525.8,253.4 527.0,260.4 527.9,267.3 529.0,275.0 530.4,267.3 532.5,260.4 534.6,258.3 536.0,253.4 537.4,247.2 539.1,256.9 540.5,250.7 542.3,251.3 543.7,247.9 545.0,242.3 546.0,250.7 547.1,264.6 548.2,275.0 549.9,272.2 551.0,282.0 552.0,272.9 553.0,264.6 554.8,257.6 556.2,243.7 557.1,229.8 558.3,220.0 559.9,214.5 561.0,207.5 562.2,202.7 563.8,207.5 565.2,221.4 566.6,209.6 568.0,213.1 569.4,236.7 570.8,261.8 571.9,278.5 572.6,212.0 576.1,212.0" fill="none" stroke="#0000ff" stroke-width="4.6" stroke-linejoin="round" stroke-linecap="butt"/>
<path d="M275.6 211.5H727.5" stroke="#000" stroke-width="1" stroke-dasharray="20.8 12.5" fill="none"/>
</g>
<path d="M727.5 134.3h-5.0M727.5 211.8h-5.0M727.5 289.3h-5.0M727.5 366.8h-5.0" stroke="#262626" stroke-width="1.2" fill="none"/>
<path d="M275.5 108.5h5.0M275.5 160.2h5.0M275.5 211.8h5.0M275.5 263.5h5.0M275.5 315.2h5.0M275.5 366.8h5.0M275.5 418.5h5.0" stroke="#0000ff" stroke-width="1.2" fill="none"/>
<text x="562.5" y="62" font-size="25" text-anchor="middle" fill="#000">Macquarie Island</text>
<text x="275.5" y="100" font-size="12.5" text-anchor="start" fill="#000">File Updated:30-Oct-2025 15:50:03 UTC</text>
<text x="720.4" y="106.6" font-size="14.58" text-anchor="end" fill="#000">minute resolution</text>
<rect x="571.9316666666666" y="104" width="3" height="314" fill="#00ffff"/>
<rect x="567.1316666666667" y="104" width="110.5" height="39.5" fill="#fff" stroke="#00ffff" stroke-width="1.1"/>
<text x="572.8316666666667" y="131" font-size="20.83" text-anchor="start" fill="#000" letter-spacing="0.1">time now</text>
<text x="274.9" y="447.5" font-size="20.83" text-anchor="middle" fill="#262626">0</text>
<text x="331.4" y="447.5" font-size="20.83" text-anchor="middle" fill="#262626">3</text>
<text x="387.9" y="447.5" font-size="20.83" text-anchor="middle" fill="#262626">6</text>
<text x="444.4" y="447.5" font-size="20.83" text-anchor="middle" fill="#262626">9</text>
<text x="500.9" y="447.5" font-size="20.83" text-anchor="middle" fill="#262626">12</text>
<text x="557.4" y="447.5" font-size="20.83" text-anchor="middle" fill="#262626">15</text>
<text x="613.9" y="447.5" font-size="20.83" text-anchor="middle" fill="#262626">18</text>
<text x="670.4" y="447.5" font-size="20.83" text-anchor="middle" fill="#262626">21</text>
<text x="726.9" y="447.5" font-size="20.83" text-anchor="middle" fill="#262626">24</text>
<text x="265.3" y="116.0" font-size="20.83" text-anchor="end" fill="#0000ff">400</text>
<text x="265.3" y="167.7" font-size="20.83" text-anchor="end" fill="#0000ff">200</text>
<text x="265.3" y="219.3" font-size="20.83" text-anchor="end" fill="#0000ff">0</text>
<text x="265.3" y="271.0" font-size="20.83" text-anchor="end" fill="#0000ff">-200</text>
<text x="265.3" y="322.7" font-size="20.83" text-anchor="end" fill="#0000ff">-400</text>
<text x="265.3" y="374.3" font-size="20.83" text-anchor="end" fill="#0000ff">-600</text>
<text x="265.3" y="426.0" font-size="20.83" text-anchor="end" fill="#0000ff">-800</text>
<text x="736.5" y="141.8" font-size="20.83" text-anchor="start" fill="#262626">50</text>
<text x="736.5" y="219.3" font-size="20.83" text-anchor="start" fill="#262626">0</text>
<text x="736.5" y="296.8" font-size="20.83" text-anchor="start" fill="#262626">-50</text>
<text x="736.5" y="374.3" font-size="20.83" text-anchor="start" fill="#262626">-100</text>
<text x="500.7" y="479" font-size="22.92" text-anchor="middle" fill="#262626">UT Time /h</text>
<rect x="868" y="108" width="113.0" height="310" fill="#e6e6e6"/>
<rect x="1227.4" y="108" width="93.6" height="310" fill="#e6e6e6"/>
<clipPath id="cp1"><rect x="868" y="106" width="454" height="312"/></clipPath>
<path d="M868.5 418.5H1321.5V108" fill="none" stroke="#262626" stroke-width="1.2"/>
<path d="M868.5 108V418.5" fill="none" stroke="#0000ff" stroke-width="1.2"/>
<path d="M868.5 418.5v-5.0M925.1 418.5v-5.0M981.8 418.5v-5.0M1038.4 418.5v-5.0M1095.0 418.5v-5.0M1151.6 418.5v-5.0M1208.2 418.5v-5.0M1264.9 418.5v-5.0M1321.5 418.5v-5.0" stroke="#262626" stroke-width="1.2" fill="none"/>
<g clip-path="url(#cp1)">
<path d="M868.5 280.1L868.8 244.0M869.1 277.6L869.4 280.4M869.8 266.5L870.1 252.8M870.4 257.5L870.7 270.7M871.0 243.1L871.3 255.1M871.6 242.6L872.0 258.4M872.3 273.9L872.6 267.6M872.9 245.1L873.2 255.6M873.5 255.3L873.8 272.1M874.2 251.4L874.5 282.1M874.8 281.8L875.1 276.5M875.4 277.1L875.7 258.4M876.0 263.3L876.4 267.8M876.7 268.7L877.0 259.3M877.3 265.1L877.6 270.4M877.9 246.0L878.3 252.3M878.6 226.3L878.9 239.4M879.2 218.5L879.5 226.2M879.8 245.7L880.1 242.3M880.5 252.2L880.8 250.6M881.1 274.3L881.4 260.2M881.7 300.5L882.0 264.6M882.3 264.6L882.7 255.0M883.0 266.9L883.3 271.3M883.6 272.4L883.9 259.1M884.2 259.8L884.5 245.4M884.9 260.8L885.2 262.6M885.5 244.7L885.8 258.1M886.1 259.0L886.4 266.0M886.7 273.1L887.1 269.4M887.4 269.7L887.7 257.4M888.0 268.6L888.3 270.5M888.6 264.0L888.9 261.0M889.3 267.2L889.6 261.0M889.9 261.9L890.2 249.5M890.5 256.5L890.8 254.2M891.1 250.5L891.5 227.6M891.8 219.3L892.1 242.8M892.4 241.7L892.7 327.2M893.0 303.2L893.4 290.7M893.7 267.4L894.0 281.0M894.3 292.9L894.6 284.4M894.9 274.5L895.2 248.7M895.6 274.6L895.9 253.7M896.2 251.0L896.5 264.8M896.8 251.0L897.1 277.3M897.4 245.4L897.8 236.9M898.1 268.7L898.4 274.6M898.7 272.0L899.0 272.5M899.3 288.3L899.6 289.9M900.0 310.4L900.3 278.9M900.6 288.9L900.9 273.5M901.2 253.6L901.5 251.9M901.8 292.8L902.2 260.6M902.5 291.1L902.8 258.9M903.1 267.3L903.4 256.3M903.7 250.0L904.0 268.9M904.4 249.7L904.7 274.6M905.0 297.9L905.3 287.7M905.6 277.7L905.9 256.3M906.2 277.1L906.6 268.7M906.9 256.0L907.2 251.5M907.5 263.0L907.8 294.0M908.1 253.9L908.5 257.3M908.8 277.3L909.1 281.0M909.4 279.5L909.7 293.8M910.0 294.2L910.3 287.9M910.7 222.6L911.0 256.3M911.3 256.3L911.6 271.4M911.9 308.8L912.2 275.2M912.5 262.9L912.9 280.8M913.2 289.0L913.5 319.6M913.8 251.7L914.1 294.4M914.4 330.9L914.7 296.8M915.1 264.4L915.4 271.6M915.7 277.3L916.0 237.3M916.3 249.8L916.6 218.4M916.9 262.8L917.3 255.1M917.6 239.8L917.9 248.7M918.2 252.6L918.5 260.1M918.8 248.0L919.1 290.5M919.5 274.8L919.8 269.5M920.1 273.8L920.4 284.6M920.7 276.6L921.0 299.9M921.4 319.3L921.7 272.3M922.0 266.4L922.3 199.9M922.6 200.0L922.9 224.0M923.2 247.9L923.6 322.0M923.9 270.4L924.2 235.8M924.5 234.7L924.8 254.2M925.1 227.1L925.4 272.1M925.8 258.0L926.1 254.8M926.4 255.8L926.7 214.2M927.0 261.6L927.3 227.2M927.6 256.1L928.0 277.6M928.3 256.4L928.6 270.0M928.9 300.9L929.2 297.1M929.5 278.9L929.8 301.0M930.2 301.7L930.5 258.6M930.8 285.7L931.1 274.0M931.4 290.9L931.7 245.5M932.0 253.3L932.4 266.4M932.7 288.5L933.0 284.8M933.3 283.7L933.6 264.8M933.9 238.0L934.2 242.4M934.6 280.1L934.9 287.2M935.2 275.3L935.5 260.4M935.8 271.6L936.1 260.4M936.5 289.9L936.8 283.1M937.1 302.0L937.4 278.8M937.7 264.7L938.0 279.7M938.3 276.1L938.7 253.7M939.0 252.5L939.3 273.1M939.6 300.9L939.9 249.6M940.2 226.0L940.5 255.0M940.9 243.7L941.2 234.9M941.5 237.4L941.8 262.8M942.1 244.0L942.4 207.6M942.7 241.0L943.1 258.2M943.4 263.6L943.7 274.8M944.0 268.6L944.3 260.8M944.6 270.1L944.9 257.6M945.3 254.5L945.6 270.8M945.9 265.4L946.2 253.4M946.5 349.0L946.8 279.1M947.1 281.5L947.5 302.3M947.8 282.5L948.1 271.4M948.4 276.3L948.7 269.5M949.0 255.4L949.3 269.1M949.7 270.0L950.0 251.6M950.3 264.0L950.6 264.3M950.9 264.8L951.2 269.4M951.5 273.6L951.9 252.2M952.2 252.4L952.5 273.7M952.8 257.0L953.1 247.8M953.4 239.9L953.8 237.7M954.1 259.1L954.4 272.5M954.7 220.4L955.0 245.8M955.3 217.0L955.6 263.2M956.0 230.1L956.3 268.7M956.6 283.3L956.9 274.7M957.2 271.7L957.5 265.7M957.8 288.1L958.2 269.4M958.5 278.5L958.8 269.5M959.1 254.8L959.4 280.0M959.7 288.8L960.0 293.4M960.4 306.9L960.7 288.9M961.0 276.4L961.3 289.2M961.6 264.8L961.9 275.9M962.2 276.4L962.6 260.8M962.9 268.3L963.2 213.5M963.5 257.3L963.8 268.6M964.1 224.1L964.4 253.6M964.8 260.8L965.1 258.2M965.4 244.1L965.7 263.7M966.0 281.8L966.3 290.1M966.6 271.9L967.0 233.0M967.3 267.0L967.6 267.4M967.9 255.6L968.2 303.8M968.5 282.9L968.9 283.3M969.2 280.0L969.5 332.9M969.8 296.0L970.1 267.8M970.4 305.3L970.7 278.2M971.1 248.2L971.4 241.8M971.7 264.6L972.0 317.5M972.3 333.8L972.6 291.8M972.9 207.2L973.3 201.3M973.6 263.7L973.9 249.5M974.2 257.6L974.5 224.6M974.8 201.3L975.1 247.5M975.5 243.9L975.8 207.7M976.1 204.4L976.4 201.7M976.7 282.3L977.0 271.7M977.3 316.0L977.7 297.7M978.0 310.8L978.3 296.8M978.6 298.4L978.9 303.9M979.2 297.6L979.5 275.4M979.9 312.9L980.2 333.5M980.5 306.9L980.8 308.5M981.1 275.3L981.4 319.6M981.8 261.9L982.1 201.6M982.4 255.0L982.7 239.2M983.0 250.5L983.3 247.9M983.6 256.9L984.0 243.6M984.3 236.1L984.6 236.2M984.9 225.5L985.2 234.8M985.5 284.7L985.8 295.8M986.2 278.6L986.5 280.1M986.8 317.1L987.1 281.9M987.4 331.2L987.7 252.2M988.0 261.4L988.4 259.8M988.7 266.1L989.0 265.8M989.3 281.4L989.6 260.0M989.9 311.7L990.2 278.6M990.6 265.8L990.9 279.2M991.2 275.2L991.5 277.7M991.8 279.4L992.1 261.1M992.4 268.5L992.8 257.6M993.1 254.9L993.4 236.8M993.7 225.5L994.0 284.7M994.3 283.1L994.6 253.6M995.0 308.8L995.3 311.5M995.6 288.3L995.9 243.8M996.2 259.6L996.5 244.1M996.9 288.8L997.2 306.5M997.5 269.8L997.8 277.1M998.1 270.0L998.4 256.3M998.7 269.6L999.1 244.1M999.4 271.3L999.7 266.9M1000.0 284.1L1000.3 270.4M1000.6 261.3L1000.9 273.2M1001.3 305.7L1001.6 289.1M1001.9 274.3L1002.2 254.5M1002.5 261.3L1002.8 282.4M1003.1 249.8L1003.5 275.6M1003.8 259.0L1004.1 272.4M1004.4 253.6L1004.7 272.6M1005.0 269.5L1005.3 289.3M1005.7 295.0L1006.0 271.9M1006.3 231.2L1006.6 205.4M1006.9 271.2L1007.2 265.3M1007.5 299.0L1007.9 271.6M1008.2 281.3L1008.5 276.1M1008.8 271.1L1009.1 289.6M1009.4 308.8L1009.7 290.5M1010.1 284.4L1010.4 271.5M1010.7 248.2L1011.0 261.0M1011.3 271.8L1011.6 261.2M1012.0 263.0L1012.3 274.0M1012.6 286.0L1012.9 272.3M1013.2 291.6L1013.5 286.0M1013.8 273.6L1014.2 260.9M1014.5 278.6L1014.8 254.3M1015.1 241.0L1015.4 257.8M1015.7 248.1L1016.0 230.6M1016.4 227.9L1016.7 250.7M1017.0 253.7L1017.3 260.8M1017.6 250.7L1017.9 255.2M1018.2 265.5L1018.6 259.0M1018.9 267.7L1019.2 259.1M1019.5 268.5L1019.8 257.4M1020.1 256.2L1020.4 278.4M1020.8 286.8L1021.1 279.6M1021.4 245.9L1021.7 235.7M1022.0 240.7L1022.3 251.1M1022.6 273.0L1023.0 278.7M1023.3 265.7L1023.6 271.6M1023.9 267.4L1024.2 252.4M1024.5 287.2L1024.8 302.7M1025.2 265.7L1025.5 262.7M1025.8 270.1L1026.1 261.2M1026.4 271.4L1026.7 289.6M1027.0 292.0L1027.4 278.1M1027.7 280.9L1028.0 283.3M1028.3 258.3L1028.6 280.3M1028.9 278.5L1029.3 268.1M1029.6 283.8L1029.9 289.0M1030.2 281.8L1030.5 269.2M1030.8 260.8L1031.1 260.7M1031.5 246.7L1031.8 265.0M1032.1 245.8L1032.4 239.0M1032.7 263.1L1033.0 266.5M1033.3 259.5L1033.7 278.2M1034.0 278.7L1034.3 259.5M1034.6 249.9L1034.9 272.6M1035.2 276.1L1035.5 280.6M1035.9 315.9L1036.2 293.1M1036.5 263.1L1036.8 260.7M1037.1 208.0L1037.4 235.6M1037.7 255.8L1038.1 291.0M1038.4 289.4L1038.7 301.0M1039.0 311.6L1039.3 273.6M1039.6 273.7L1039.9 280.5M1040.3 259.1L1040.6 264.6M1040.9 291.8L1041.2 226.9M1041.5 262.1L1041.8 284.1M1042.2 264.1L1042.5 253.0M1042.8 329.9L1043.1 298.2M1043.4 288.9L1043.7 275.9M1044.0 247.7L1044.4 271.3M1044.7 271.3L1045.0 254.9M1045.3 258.3L1045.6 263.6M1045.9 276.7L1046.2 288.7M1046.6 288.6L1046.9 308.0M1047.2 258.9L1047.5 236.7M1047.8 252.5L1048.1 273.1M1048.4 247.1L1048.8 265.5M1049.1 263.6L1049.4 233.2M1049.7 209.8L1050.0 150.0M1050.3 269.1L1050.6 395.8M1051.0 302.7L1051.3 272.3M1051.6 279.8L1051.9 308.8M1052.2 306.0L1052.5 175.0M1052.8 321.9L1053.2 283.9M1053.5 267.6L1053.8 261.7M1054.1 231.6L1054.4 215.2M1054.7 230.9L1055.0 252.1M1055.4 252.5L1055.7 257.7M1056.0 258.7L1056.3 340.3M1056.6 256.1L1056.9 297.9M1057.2 283.3L1057.6 293.4M1057.9 300.0L1058.2 302.6M1058.5 226.9L1058.8 254.6M1059.1 257.5L1059.5 274.4M1059.8 289.2L1060.1 280.1M1060.4 269.1L1060.7 236.5M1061.0 195.9L1061.3 259.8M1061.7 252.5L1062.0 349.5M1062.3 306.9L1062.6 268.5M1062.9 249.3L1063.2 221.3M1063.5 261.6L1063.9 261.9M1064.2 284.2L1064.5 320.4M1064.8 277.5L1065.1 300.7M1065.4 252.1L1065.7 278.0M1066.1 275.0L1066.4 273.2M1066.7 260.9L1067.0 291.1M1067.3 264.9L1067.6 272.4M1067.9 247.2L1068.3 265.2M1068.6 304.9L1068.9 312.2M1069.2 303.3L1069.5 284.3M1069.8 264.7L1070.1 289.9M1070.5 282.8L1070.8 297.3M1071.1 292.6L1071.4 313.3M1071.7 227.3L1072.0 244.8M1072.3 224.8L1072.7 256.9M1073.0 262.4L1073.3 271.9M1073.6 263.0L1073.9 275.5M1074.2 286.9L1074.6 267.8M1074.9 260.4L1075.2 267.6M1075.5 271.3L1075.8 259.4M1076.1 280.1L1076.4 250.4M1076.8 273.6L1077.1 252.0M1077.4 260.5L1077.7 282.0M1078.0 294.5L1078.3 265.4M1078.6 289.6L1079.0 284.6M1079.3 289.1L1079.6 274.5M1079.9 265.6L1080.2 254.5M1080.5 259.9L1080.8 264.3M1081.2 283.9L1081.5 277.9M1081.8 324.7L1082.1 247.1M1082.4 286.3L1082.7 281.2M1083.0 261.9L1083.4 260.4M1083.7 234.5L1084.0 214.0M1084.3 266.6L1084.6 298.8M1084.9 282.3L1085.2 250.0M1085.6 260.2L1085.9 276.9M1086.2 258.9L1086.5 281.6M1086.8 241.3L1087.1 240.8M1087.5 275.4L1087.8 288.2M1088.1 276.8L1088.4 295.4M1088.7 273.1L1089.0 293.2M1089.3 265.2L1089.7 317.4M1090.0 294.5L1090.3 277.8M1090.6 284.1L1090.9 226.0M1091.2 224.4L1091.5 227.1M1091.9 330.0L1092.2 266.7M1092.5 293.6L1092.8 281.5M1093.1 227.5L1093.4 240.8M1093.7 191.5L1094.1 121.9M1094.4 261.6L1094.7 357.1M1095.0 267.9L1095.3 279.7M1095.6 250.4L1095.9 247.8M1096.3 145.0L1096.6 253.7M1096.9 312.6L1097.2 261.8M1097.5 295.1L1097.8 292.1M1098.1 268.2L1098.5 228.8M1098.8 178.8L1099.1 365.7M1099.4 251.0L1099.7 219.1M1100.0 231.6L1100.3 262.8M1100.7 258.1L1101.0 179.3M1101.3 202.6L1101.6 270.3M1101.9 299.7L1102.2 278.9M1102.5 179.6L1102.9 179.7M1103.2 235.5L1103.5 304.2M1103.8 300.5L1104.1 263.0M1104.4 302.7L1104.8 195.0M1105.1 252.8L1105.4 354.7M1105.7 339.5L1106.0 320.0M1106.3 291.4L1106.6 316.7M1107.0 360.0L1107.3 270.4M1107.6 340.0L1107.9 323.3M1108.2 265.4L1108.5 266.2M1108.8 322.9L1109.2 287.0M1109.5 259.0L1109.8 325.9M1110.1 235.5L1110.4 242.4M1110.7 404.0L1111.0 286.2M1111.4 299.3L1111.7 297.3M1112.0 283.1L1112.3 248.9M1112.6 242.3L1112.9 281.4M1113.2 302.8L1113.6 273.0M1113.9 200.0L1114.2 254.5M1114.5 207.9L1114.8 255.7M1115.1 287.6L1115.4 272.4M1115.8 285.1L1116.1 291.0M1116.4 198.7L1116.7 271.4M1117.0 284.9L1117.3 318.4M1117.7 276.8L1118.0 255.1M1118.3 235.2L1118.6 219.8M1118.9 208.7L1119.2 238.2M1119.5 242.3L1119.9 229.6M1120.2 312.3L1120.5 292.8M1120.8 283.0L1121.1 284.1M1121.4 286.6L1121.7 306.6M1122.1 314.3L1122.4 286.2M1122.7 266.9L1123.0 270.7M1123.3 273.5L1123.6 269.2M1123.9 263.3L1124.3 250.2M1124.6 256.1L1124.9 259.6M1125.2 267.1L1125.5 275.1M1125.8 272.1L1126.1 262.8M1126.5 271.9L1126.8 249.6M1127.1 273.0L1127.4 243.2M1127.7 240.7L1128.0 282.1M1128.3 268.1L1128.7 281.6M1129.0 284.4L1129.3 270.2M1129.6 244.9L1129.9 263.1M1130.2 255.1L1130.5 266.3M1130.9 257.6L1131.2 252.2M1131.5 252.5L1131.8 278.0M1132.1 250.7L1132.4 262.7M1132.8 248.8L1133.1 266.5M1133.4 285.9L1133.7 262.0M1134.0 248.3L1134.3 269.5M1134.6 279.4L1135.0 276.6M1135.3 296.0L1135.6 297.6M1135.9 253.8L1136.2 251.7M1136.5 239.1L1136.8 270.2M1137.2 256.1L1137.5 269.0M1137.8 272.6L1138.1 257.1M1138.4 251.1L1138.7 240.6M1139.0 283.8L1139.4 333.5M1139.7 311.1L1140.0 259.0M1140.3 263.1L1140.6 247.1M1140.9 280.3L1141.2 264.6M1141.6 246.0L1141.9 240.9M1142.2 283.7L1142.5 280.7M1142.8 250.4L1143.1 262.8M1143.4 246.4L1143.8 248.2M1144.1 224.9L1144.4 265.1M1144.7 285.4L1145.0 333.5M1145.3 300.4L1145.6 268.9M1146.0 294.5L1146.3 248.5M1146.6 272.3L1146.9 311.0M1147.2 285.3L1147.5 258.9M1147.8 288.1L1148.2 260.4M1148.5 294.0L1148.8 258.5M1149.1 318.2L1149.4 281.0M1149.7 253.3L1150.1 326.5M1150.4 317.2L1150.7 201.5M1151.0 222.2L1151.3 266.2M1151.6 280.3L1151.9 333.5M1152.3 295.4L1152.6 274.3M1152.9 310.4L1153.2 275.5M1153.5 273.5L1153.8 251.9M1154.1 237.8L1154.5 313.1M1154.8 318.9L1155.1 271.8M1155.4 333.5L1155.7 261.1M1156.0 263.0L1156.3 281.6M1156.7 272.6L1157.0 221.6M1157.3 321.5L1157.6 333.5M1157.9 333.5L1158.2 316.6M1158.5 310.4L1158.9 333.5M1159.2 290.2L1159.5 259.6M1159.8 256.4L1160.1 251.3M1160.4 318.8L1160.7 276.6M1161.1 319.0L1161.4 280.3M1161.7 294.6L1162.0 288.0M1162.3 285.5L1162.6 290.8M1163.0 284.1L1163.3 253.4M1163.6 254.7L1163.9 275.0M1164.2 236.0L1164.5 243.2M1164.8 250.8L1165.2 291.4M1165.5 286.7L1165.8 263.1M1166.1 266.4L1166.4 278.0" fill="none" stroke="#000" stroke-opacity="0.24" stroke-width="0.9" stroke-linecap="round"/>
<path d="M868.8 244.0L869.1 277.6M869.4 280.4L869.8 266.5M870.1 252.8L870.4 257.5M870.7 270.7L871.0 243.1M871.3 255.1L871.6 242.6M872.0 258.4L872.3 273.9M872.6 267.6L872.9 245.1M873.2 255.6L873.5 255.3M873.8 272.1L874.2 251.4M874.5 282.1L874.8 281.8M875.1 276.5L875.4 277.1M875.7 258.4L876.0 263.3M876.4 267.8L876.7 268.7M877.0 259.3L877.3 265.1M877.6 270.4L877.9 246.0M878.3 252.3L878.6 226.3M878.9 239.4L879.2 218.5M879.5 226.2L879.8 245.7M880.1 242.3L880.5 252.2M880.8 250.6L881.1 274.3M881.4 260.2L881.7 300.5M882.0 264.6L882.3 264.6M882.7 255.0L883.0 266.9M883.3 271.3L883.6 272.4M883.9 259.1L884.2 259.8M884.5 245.4L884.9 260.8M885.2 262.6L885.5 244.7M885.8 258.1L886.1 259.0M886.4 266.0L886.7 273.1M887.1 269.4L887.4 269.7M887.7 257.4L888.0 268.6M888.3 270.5L888.6 264.0M888.9 261.0L889.3 267.2M889.6 261.0L889.9 261.9M890.2 249.5L890.5 256.5M890.8 254.2L891.1 250.5M891.5 227.6L891.8 219.3M892.1 242.8L892.4 241.7M892.7 327.2L893.0 303.2M893.4 290.7L893.7 267.4M894.0 281.0L894.3 292.9M894.6 284.4L894.9 274.5M895.2 248.7L895.6 274.6M895.9 253.7L896.2 251.0M896.5 264.8L896.8 251.0M897.1 277.3L897.4 245.4M897.8 236.9L898.1 268.7M898.4 274.6L898.7 272.0M899.0 272.5L899.3 288.3M899.6 289.9L900.0 310.4M900.3 278.9L900.6 288.9M900.9 273.5L901.2 253.6M901.5 251.9L901.8 292.8M902.2 260.6L902.5 291.1M902.8 258.9L903.1 267.3M903.4 256.3L903.7 250.0M904.0 268.9L904.4 249.7M904.7 274.6L905.0 297.9M905.3 287.7L905.6 277.7M905.9 256.3L906.2 277.1M906.6 268.7L906.9 256.0M907.2 251.5L907.5 263.0M907.8 294.0L908.1 253.9M908.5 257.3L908.8 277.3M909.1 281.0L909.4 279.5M909.7 293.8L910.0 294.2M910.3 287.9L910.7 222.6M911.0 256.3L911.3 256.3M911.6 271.4L911.9 308.8M912.2 275.2L912.5 262.9M912.9 280.8L913.2 289.0M913.5 319.6L913.8 251.7M914.1 294.4L914.4 330.9M914.7 296.8L915.1 264.4M915.4 271.6L915.7 277.3M916.0 237.3L916.3 249.8M916.6 218.4L916.9 262.8M917.3 255.1L917.6 239.8M917.9 248.7L918.2 252.6M918.5 260.1L918.8 248.0M919.1 290.5L919.5 274.8M919.8 269.5L920.1 273.8M920.4 284.6L920.7 276.6M921.0 299.9L921.4 319.3M921.7 272.3L922.0 266.4M922.3 199.9L922.6 200.0M922.9 224.0L923.2 247.9M923.6 322.0L923.9 270.4M924.2 235.8L924.5 234.7M924.8 254.2L925.1 227.1M925.4 272.1L925.8 258.0M926.1 254.8L926.4 255.8M926.7 214.2L927.0 261.6M927.3 227.2L927.6 256.1M928.0 277.6L928.3 256.4M928.6 270.0L928.9 300.9M929.2 297.1L929.5 278.9M929.8 301.0L930.2 301.7M930.5 258.6L930.8 285.7M931.1 274.0L931.4 290.9M931.7 245.5L932.0 253.3M932.4 266.4L932.7 288.5M933.0 284.8L933.3 283.7M933.6 264.8L933.9 238.0M934.2 242.4L934.6 280.1M934.9 287.2L935.2 275.3M935.5 260.4L935.8 271.6M936.1 260.4L936.5 289.9M936.8 283.1L937.1 302.0M937.4 278.8L937.7 264.7M938.0 279.7L938.3 276.1M938.7 253.7L939.0 252.5M939.3 273.1L939.6 300.9M939.9 249.6L940.2 226.0M940.5 255.0L940.9 243.7M941.2 234.9L941.5 237.4M941.8 262.8L942.1 244.0M942.4 207.6L942.7 241.0M943.1 258.2L943.4 263.6M943.7 274.8L944.0 268.6M944.3 260.8L944.6 270.1M944.9 257.6L945.3 254.5M945.6 270.8L945.9 265.4M946.2 253.4L946.5 349.0M946.8 279.1L947.1 281.5M947.5 302.3L947.8 282.5M948.1 271.4L948.4 276.3M948.7 269.5L949.0 255.4M949.3 269.1L949.7 270.0M950.0 251.6L950.3 264.0M950.6 264.3L950.9 264.8M951.2 269.4L951.5 273.6M951.9 252.2L952.2 252.4M952.5 273.7L952.8 257.0M953.1 247.8L953.4 239.9M953.8 237.7L954.1 259.1M954.4 272.5L954.7 220.4M955.0 245.8L955.3 217.0M955.6 263.2L956.0 230.1M956.3 268.7L956.6 283.3M956.9 274.7L957.2 271.7M957.5 265.7L957.8 288.1M958.2 269.4L958.5 278.5M958.8 269.5L959.1 254.8M959.4 280.0L959.7 288.8M960.0 293.4L960.4 306.9M960.7 288.9L961.0 276.4M961.3 289.2L961.6 264.8M961.9 275.9L962.2 276.4M962.6 260.8L962.9 268.3M963.2 213.5L963.5 257.3M963.8 268.6L964.1 224.1M964.4 253.6L964.8 260.8M965.1 258.2L965.4 244.1M965.7 263.7L966.0 281.8M966.3 290.1L966.6 271.9M967.0 233.0L967.3 267.0M967.6 267.4L967.9 255.6M968.2 303.8L968.5 282.9M968.9 283.3L969.2 280.0M969.5 332.9L969.8 296.0M970.1 267.8L970.4 305.3M970.7 278.2L971.1 248.2M971.4 241.8L971.7 264.6M972.0 317.5L972.3 333.8M972.6 291.8L972.9 207.2M973.3 201.3L973.6 263.7M973.9 249.5L974.2 257.6M974.5 224.6L974.8 201.3M975.1 247.5L975.5 243.9M975.8 207.7L976.1 204.4M976.4 201.7L976.7 282.3M977.0 271.7L977.3 316.0M977.7 297.7L978.0 310.8M978.3 296.8L978.6 298.4M978.9 303.9L979.2 297.6M979.5 275.4L979.9 312.9M980.2 333.5L980.5 306.9M980.8 308.5L981.1 275.3M981.4 319.6L981.8 261.9M982.1 201.6L982.4 255.0M982.7 239.2L983.0 250.5M983.3 247.9L983.6 256.9M984.0 243.6L984.3 236.1M984.6 236.2L984.9 225.5M985.2 234.8L985.5 284.7M985.8 295.8L986.2 278.6M986.5 280.1L986.8 317.1M987.1 281.9L987.4 331.2M987.7 252.2L988.0 261.4M988.4 259.8L988.7 266.1M989.0 265.8L989.3 281.4M989.6 260.0L989.9 311.7M990.2 278.6L990.6 265.8M990.9 279.2L991.2 275.2M991.5 277.7L991.8 279.4M992.1 261.1L992.4 268.5M992.8 257.6L993.1 254.9M993.4 236.8L993.7 225.5M994.0 284.7L994.3 283.1M994.6 253.6L995.0 308.8M995.3 311.5L995.6 288.3M995.9 243.8L996.2 259.6M996.5 244.1L996.9 288.8M997.2 306.5L997.5 269.8M997.8 277.1L998.1 270.0M998.4 256.3L998.7 269.6M999.1 244.1L999.4 271.3M999.7 266.9L1000.0 284.1M1000.3 270.4L1000.6 261.3M1000.9 273.2L1001.3 305.7M1001.6 289.1L1001.9 274.3M1002.2 254.5L1002.5 261.3M1002.8 282.4L1003.1 249.8M1003.5 275.6L1003.8 259.0M1004.1 272.4L1004.4 253.6M1004.7 272.6L1005.0 269.5M1005.3 289.3L1005.7 295.0M1006.0 271.9L1006.3 231.2M1006.6 205.4L1006.9 271.2M1007.2 265.3L1007.5 299.0M1007.9 271.6L1008.2 281.3M1008.5 276.1L1008.8 271.1M1009.1 289.6L1009.4 308.8M1009.7 290.5L1010.1 284.4M1010.4 271.5L1010.7 248.2M1011.0 261.0L1011.3 271.8M1011.6 261.2L1012.0 263.0M1012.3 274.0L1012.6 286.0M1012.9 272.3L1013.2 291.6M1013.5 286.0L1013.8 273.6M1014.2 260.9L1014.5 278.6M1014.8 254.3L1015.1 241.0M1015.4 257.8L1015.7 248.1M1016.0 230.6L1016.4 227.9M1016.7 250.7L1017.0 253.7M1017.3 260.8L1017.6 250.7M1017.9 255.2L1018.2 265.5M1018.6 259.0L1018.9 267.7M1019.2 259.1L1019.5 268.5M1019.8 257.4L1020.1 256.2M1020.4 278.4L1020.8 286.8M1021.1 279.6L1021.4 245.9M1021.7 235.7L1022.0 240.7M1022.3 251.1L1022.6 273.0M1023.0 278.7L1023.3 265.7M1023.6 271.6L1023.9 267.4M1024.2 252.4L1024.5 287.2M1024.8 302.7L1025.2 265.7M1025.5 262.7L1025.8 270.1M1026.1 261.2L1026.4 271.4M1026.7 289.6L1027.0 292.0M1027.4 278.1L1027.7 280.9M1028.0 283.3L1028.3 258.3M1028.6 280.3L1028.9 278.5M1029.3 268.1L1029.6 283.8M1029.9 289.0L1030.2 281.8M1030.5 269.2L1030.8 260.8M1031.1 260.7L1031.5 246.7M1031.8 265.0L1032.1 245.8M1032.4 239.0L1032.7 263.1M1033.0 266.5L1033.3 259.5M1033.7 278.2L1034.0 278.7M1034.3 259.5L1034.6 249.9M1034.9 272.6L1035.2 276.1M1035.5 280.6L1035.9 315.9M1036.2 293.1L1036.5 263.1M1036.8 260.7L1037.1 208.0M1037.4 235.6L1037.7 255.8M1038.1 291.0L1038.4 289.4M1038.7 301.0L1039.0 311.6M1039.3 273.6L1039.6 273.7M1039.9 280.5L1040.3 259.1M1040.6 264.6L1040.9 291.8M1041.2 226.9L1041.5 262.1M1041.8 284.1L1042.2 264.1M1042.5 253.0L1042.8 329.9M1043.1 298.2L1043.4 288.9M1043.7 275.9L1044.0 247.7M1044.4 271.3L1044.7 271.3M1045.0 254.9L1045.3 258.3M1045.6 263.6L1045.9 276.7M1046.2 288.7L1046.6 288.6M1046.9 308.0L1047.2 258.9M1047.5 236.7L1047.8 252.5M1048.1 273.1L1048.4 247.1M1048.8 265.5L1049.1 263.6M1049.4 233.2L1049.7 209.8M1050.0 150.0L1050.3 269.1M1050.6 395.8L1051.0 302.7M1051.3 272.3L1051.6 279.8M1051.9 308.8L1052.2 306.0M1052.5 175.0L1052.8 321.9M1053.2 283.9L1053.5 267.6M1053.8 261.7L1054.1 231.6M1054.4 215.2L1054.7 230.9M1055.0 252.1L1055.4 252.5M1055.7 257.7L1056.0 258.7M1056.3 340.3L1056.6 256.1M1056.9 297.9L1057.2 283.3M1057.6 293.4L1057.9 300.0M1058.2 302.6L1058.5 226.9M1058.8 254.6L1059.1 257.5M1059.5 274.4L1059.8 289.2M1060.1 280.1L1060.4 269.1M1060.7 236.5L1061.0 195.9M1061.3 259.8L1061.7 252.5M1062.0 349.5L1062.3 306.9M1062.6 268.5L1062.9 249.3M1063.2 221.3L1063.5 261.6M1063.9 261.9L1064.2 284.2M1064.5 320.4L1064.8 277.5M1065.1 300.7L1065.4 252.1M1065.7 278.0L1066.1 275.0M1066.4 273.2L1066.7 260.9M1067.0 291.1L1067.3 264.9M1067.6 272.4L1067.9 247.2M1068.3 265.2L1068.6 304.9M1068.9 312.2L1069.2 303.3M1069.5 284.3L1069.8 264.7M1070.1 289.9L1070.5 282.8M1070.8 297.3L1071.1 292.6M1071.4 313.3L1071.7 227.3M1072.0 244.8L1072.3 224.8M1072.7 256.9L1073.0 262.4M1073.3 271.9L1073.6 263.0M1073.9 275.5L1074.2 286.9M1074.6 267.8L1074.9 260.4M1075.2 267.6L1075.5 271.3M1075.8 259.4L1076.1 280.1M1076.4 250.4L1076.8 273.6M1077.1 252.0L1077.4 260.5M1077.7 282.0L1078.0 294.5M1078.3 265.4L1078.6 289.6M1079.0 284.6L1079.3 289.1M1079.6 274.5L1079.9 265.6M1080.2 254.5L1080.5 259.9M1080.8 264.3L1081.2 283.9M1081.5 277.9L1081.8 324.7M1082.1 247.1L1082.4 286.3M1082.7 281.2L1083.0 261.9M1083.4 260.4L1083.7 234.5M1084.0 214.0L1084.3 266.6M1084.6 298.8L1084.9 282.3M1085.2 250.0L1085.6 260.2M1085.9 276.9L1086.2 258.9M1086.5 281.6L1086.8 241.3M1087.1 240.8L1087.5 275.4M1087.8 288.2L1088.1 276.8M1088.4 295.4L1088.7 273.1M1089.0 293.2L1089.3 265.2M1089.7 317.4L1090.0 294.5M1090.3 277.8L1090.6 284.1M1090.9 226.0L1091.2 224.4M1091.5 227.1L1091.9 330.0M1092.2 266.7L1092.5 293.6M1092.8 281.5L1093.1 227.5M1093.4 240.8L1093.7 191.5M1094.1 121.9L1094.4 261.6M1094.7 357.1L1095.0 267.9M1095.3 279.7L1095.6 250.4M1095.9 247.8L1096.3 145.0M1096.6 253.7L1096.9 312.6M1097.2 261.8L1097.5 295.1M1097.8 292.1L1098.1 268.2M1098.5 228.8L1098.8 178.8M1099.1 365.7L1099.4 251.0M1099.7 219.1L1100.0 231.6M1100.3 262.8L1100.7 258.1M1101.0 179.3L1101.3 202.6M1101.6 270.3L1101.9 299.7M1102.2 278.9L1102.5 179.6M1102.9 179.7L1103.2 235.5M1103.5 304.2L1103.8 300.5M1104.1 263.0L1104.4 302.7M1104.8 195.0L1105.1 252.8M1105.4 354.7L1105.7 339.5M1106.0 320.0L1106.3 291.4M1106.6 316.7L1107.0 360.0M1107.3 270.4L1107.6 340.0M1107.9 323.3L1108.2 265.4M1108.5 266.2L1108.8 322.9M1109.2 287.0L1109.5 259.0M1109.8 325.9L1110.1 235.5M1110.4 242.4L1110.7 404.0M1111.0 286.2L1111.4 299.3M1111.7 297.3L1112.0 283.1M1112.3 248.9L1112.6 242.3M1112.9 281.4L1113.2 302.8M1113.6 273.0L1113.9 200.0M1114.2 254.5L1114.5 207.9M1114.8 255.7L1115.1 287.6M1115.4 272.4L1115.8 285.1M1116.1 291.0L1116.4 198.7M1116.7 271.4L1117.0 284.9M1117.3 318.4L1117.7 276.8M1118.0 255.1L1118.3 235.2M1118.6 219.8L1118.9 208.7M1119.2 238.2L1119.5 242.3M1119.9 229.6L1120.2 312.3M1120.5 292.8L1120.8 283.0M1121.1 284.1L1121.4 286.6M1121.7 306.6L1122.1 314.3M1122.4 286.2L1122.7 266.9M1123.0 270.7L1123.3 273.5M1123.6 269.2L1123.9 263.3M1124.3 250.2L1124.6 256.1M1124.9 259.6L1125.2 267.1M1125.5 275.1L1125.8 272.1M1126.1 262.8L1126.5 271.9M1126.8 249.6L1127.1 273.0M1127.4 243.2L1127.7 240.7M1128.0 282.1L1128.3 268.1M1128.7 281.6L1129.0 284.4M1129.3 270.2L1129.6 244.9M1129.9 263.1L1130.2 255.1M1130.5 266.3L1130.9 257.6M1131.2 252.2L1131.5 252.5M1131.8 278.0L1132.1 250.7M1132.4 262.7L1132.8 248.8M1133.1 266.5L1133.4 285.9M1133.7 262.0L1134.0 248.3M1134.3 269.5L1134.6 279.4M1135.0 276.6L1135.3 296.0M1135.6 297.6L1135.9 253.8M1136.2 251.7L1136.5 239.1M1136.8 270.2L1137.2 256.1M1137.5 269.0L1137.8 272.6M1138.1 257.1L1138.4 251.1M1138.7 240.6L1139.0 283.8M1139.4 333.5L1139.7 311.1M1140.0 259.0L1140.3 263.1M1140.6 247.1L1140.9 280.3M1141.2 264.6L1141.6 246.0M1141.9 240.9L1142.2 283.7M1142.5 280.7L1142.8 250.4M1143.1 262.8L1143.4 246.4M1143.8 248.2L1144.1 224.9M1144.4 265.1L1144.7 285.4M1145.0 333.5L1145.3 300.4M1145.6 268.9L1146.0 294.5M1146.3 248.5L1146.6 272.3M1146.9 311.0L1147.2 285.3M1147.5 258.9L1147.8 288.1M1148.2 260.4L1148.5 294.0M1148.8 258.5L1149.1 318.2M1149.4 281.0L1149.7 253.3M1150.1 326.5L1150.4 317.2M1150.7 201.5L1151.0 222.2M1151.3 266.2L1151.6 280.3M1151.9 333.5L1152.3 295.4M1152.6 274.3L1152.9 310.4M1153.2 275.5L1153.5 273.5M1153.8 251.9L1154.1 237.8M1154.5 313.1L1154.8 318.9M1155.1 271.8L1155.4 333.5M1155.7 261.1L1156.0 263.0M1156.3 281.6L1156.7 272.6M1157.0 221.6L1157.3 321.5M1157.6 333.5L1157.9 333.5M1158.2 316.6L1158.5 310.4M1158.9 333.5L1159.2 290.2M1159.5 259.6L1159.8 256.4M1160.1 251.3L1160.4 318.8M1160.7 276.6L1161.1 319.0M1161.4 280.3L1161.7 294.6M1162.0 288.0L1162.3 285.5M1162.6 290.8L1163.0 284.1M1163.3 253.4L1163.6 254.7M1163.9 275.0L1164.2 236.0M1164.5 243.2L1164.8 250.8M1165.2 291.4L1165.5 286.7M1165.8 263.1L1166.1 266.4M1166.4 278.0L1166.7 253.5" fill="none" stroke="#000" stroke-opacity="0.24" stroke-width="0.9" stroke-linecap="round"/>
<path d="M868.5 168.4H1321.5" stroke="#ff0000" stroke-width="3.1" fill="none"/>
<path d="M868.5 366.6H1321.5" stroke="#ff0000" stroke-width="3.1" fill="none"/>
<path d="M868.5 188.3H1321.5" stroke="#ffff00" stroke-width="3.1" fill="none"/>
<path d="M868.5 346.7H1321.5" stroke="#ffff00" stroke-width="3.1" fill="none"/>
<path d="M868.5 208.1H1321.5" stroke="#00ff00" stroke-width="3.1" fill="none"/>
<path d="M868.5 326.9H1321.5" stroke="#00ff00" stroke-width="3.1" fill="none"/>
<path d="M1167.8 267.7H1321.5" stroke="#0000ff" stroke-width="4" fill="none"/>
<polyline points="869.2,329.0 870.6,324.2 872.0,315.8 873.3,306.1 874.5,295.7 876.1,304.7 877.5,307.5 878.9,304.7 881.0,296.3 882.4,285.2 883.8,274.1 885.2,265.7 887.0,263.0 888.7,251.8 889.8,244.9 891.4,242.8 893.5,239.3 894.9,229.6 896.3,218.4 897.3,214.3 899.1,222.6 900.5,226.8 902.3,218.4 904.0,213.6 905.3,211.5 906.7,215.0 908.8,215.7 909.8,219.8 911.6,211.5 913.3,207.3 914.8,215.7 915.8,222.6 916.8,232.3 917.9,239.3 919.3,242.8 920.7,249.0 921.3,257.4 922.3,246.3 923.4,237.2 924.8,247.0 926.2,239.3 927.6,235.1 929.0,226.8 930.4,219.8 931.8,215.0 933.2,212.9 934.6,218.4 936.0,226.8 937.3,235.8 938.7,239.3 940.1,231.0 941.5,240.7 942.9,243.5 945.0,246.3 946.4,257.4 947.8,268.5 949.2,279.7 950.6,278.3 952.0,276.9 952.9,269.9 954.0,264.3 955.4,267.1 956.8,271.3 958.2,272.7 959.6,269.9 961.0,264.3 962.4,257.4 964.1,250.4 965.9,245.6 967.3,251.8 968.7,258.8 970.0,263.0 971.4,267.1 972.8,269.2 974.2,263.0 975.6,246.3 977.0,229.6 978.8,217.7 979.8,226.8 980.8,240.7 981.9,247.7 984.0,247.0 985.3,250.4 986.7,257.4 988.1,264.3 989.5,267.1 990.9,263.0 992.3,250.4 993.7,237.9 995.1,234.4 997.2,237.9 998.6,242.1 1000.7,247.7 1002.0,257.4 1002.7,268.5 1003.4,279.7 1005.5,275.5 1006.9,267.1 1008.3,257.4 1009.7,246.3 1011.1,233.7 1012.5,221.2 1014.1,212.2 1016.0,219.8 1017.3,229.6 1018.0,232.3 1019.4,221.2 1021.5,211.5 1022.7,225.4 1023.6,239.3 1024.7,251.8 1025.9,258.8 1027.2,254.6 1028.2,246.3 1029.6,239.3 1030.6,249.0 1031.7,260.2 1033.1,271.3 1034.5,278.3 1036.6,281.0 1038.0,283.8 1039.8,287.3 1041.2,281.0 1042.8,272.7 1044.2,271.3 1045.6,264.3 1047.3,278.3 1048.4,271.3 1049.5,250.4 1050.5,222.6 1051.5,194.8 1052.6,182.3 1054.0,196.2 1055.1,222.6 1056.0,250.4 1056.7,271.3 1057.4,283.8 1058.8,289.4 1059.8,299.1 1060.9,310.3 1062.3,299.1 1063.7,282.4 1064.8,271.3 1066.2,263.0 1068.1,258.1 1069.5,268.5 1070.7,279.7 1072.0,290.8 1073.4,301.9 1075.1,313.0 1076.5,301.9 1077.9,290.8 1079.3,281.0 1081.1,279.7 1082.9,271.3 1083.9,279.7 1085.3,281.0 1086.7,282.4 1088.0,285.2 1089.4,297.0 1090.8,285.2 1092.2,279.7 1093.6,287.3 1094.6,271.3 1095.4,250.4 1096.4,226.8 1097.4,211.5 1098.5,221.2 1099.6,237.9 1100.6,263.0 1101.3,285.2 1102.4,313.0 1103.8,299.1 1105.2,278.3 1106.5,257.4 1107.9,243.5 1109.2,235.8 1110.3,249.0 1111.3,271.3 1112.1,292.2 1112.7,313.0 1113.5,333.9 1114.1,345.0 1115.2,333.9 1116.3,315.8 1117.3,306.1 1118.7,313.0 1120.0,299.1 1121.4,293.6 1123.5,290.1 1124.9,296.3 1126.3,303.3 1127.7,307.5 1129.1,315.8 1130.8,313.0 1132.1,320.0 1133.3,324.2 1134.7,320.0 1135.8,314.4 1137.4,311.0 1138.5,299.1 1139.5,285.2 1140.9,271.3 1142.3,260.2 1143.7,253.2 1144.7,251.1 1145.8,260.2 1147.2,275.5 1148.6,292.2 1150.0,308.9 1152.0,299.1 1153.0,313.0 1154.1,324.2 1154.8,338.1 1156.2,343.7 1158.3,340.9 1160.4,343.7 1161.8,335.3 1163.2,327.0 1164.6,324.2 1165.3,299.1 1165.5,267.4 1166.3,267.7 1169.8,267.7" fill="none" stroke="#0000ff" stroke-width="4.6" stroke-linejoin="round" stroke-linecap="butt"/>
<path d="M868.6 267.5H1321.5" stroke="#000" stroke-width="1" stroke-dasharray="20.8 12.5" fill="none"/>
</g>
<path d="M1321.5 168.4h-5.0M1321.5 267.5h-5.0M1321.5 366.6h-5.0" stroke="#262626" stroke-width="1.2" fill="none"/>
<path d="M868.5 168.4h5.0M868.5 267.5h5.0M868.5 366.6h5.0" stroke="#0000ff" stroke-width="1.2" fill="none"/>
<text x="1103" y="62" font-size="25" text-anchor="middle" fill="#000">Eyrewell</text>
<text x="868.5" y="100" font-size="12.5" text-anchor="start" fill="#000">File Updated:30-Oct-2025 15:48:10 UTC</text>
<text x="1314.4" y="106.6" font-size="14.58" text-anchor="end" fill="#000">minute resolution</text>
<rect x="1165.59125" y="104" width="3" height="314" fill="#00ffff"/>
<rect x="1160.79125" y="104" width="110.5" height="39.5" fill="#fff" stroke="#00ffff" stroke-width="1.1"/>
<text x="1166.49125" y="131" font-size="20.83" text-anchor="start" fill="#000" letter-spacing="0.1">time now</text>
<text x="867.9" y="447.5" font-size="20.83" text-anchor="middle" fill="#262626">0</text>
<text x="924.5" y="447.5" font-size="20.83" text-anchor="middle" fill="#262626">3</text>
<text x="981.1" y="447.5" font-size="20.83" text-anchor="middle" fill="#262626">6</text>
<text x="1037.8" y="447.5" font-size="20.83" text-anchor="middle" fill="#262626">9</text>
<text x="1094.4" y="447.5" font-size="20.83" text-anchor="middle" fill="#262626">12</text>
<text x="1151.0" y="447.5" font-size="20.83" text-anchor="middle" fill="#262626">15</text>
<text x="1207.7" y="447.5" font-size="20.83" text-anchor="middle" fill="#262626">18</text>
<text x="1264.3" y="447.5" font-size="20.83" text-anchor="middle" fill="#262626">21</text>
<text x="1320.9" y="447.5" font-size="20.83" text-anchor="middle" fill="#262626">24</text>
<text x="859.8" y="175.9" font-size="20.83" text-anchor="end" fill="#0000ff">50</text>
<text x="859.8" y="275.0" font-size="20.83" text-anchor="end" fill="#0000ff">0</text>
<text x="859.8" y="374.1" font-size="20.83" text-anchor="end" fill="#0000ff">-50</text>
<text x="1330.5" y="175.9" font-size="20.83" text-anchor="start" fill="#262626">5</text>
<text x="1330.5" y="275.0" font-size="20.83" text-anchor="start" fill="#262626">0</text>
<text x="1330.5" y="374.1" font-size="20.83" text-anchor="start" fill="#262626">-5</text>
<text x="1094.2" y="479" font-size="22.92" text-anchor="middle" fill="#262626">UT Time /h</text>
<rect x="1464" y="108" width="112.7" height="310" fill="#e6e6e6"/>
<rect x="1821.7" y="108" width="92.3" height="310" fill="#e6e6e6"/>
<clipPath id="cp2"><rect x="1464" y="106" width="451" height="312"/></clipPath>
<path d="M1464.5 418.5H1914.5V108" fill="none" stroke="#262626" stroke-width="1.2"/>
<path d="M1464.5 108V418.5" fill="none" stroke="#0000ff" stroke-width="1.2"/>
<path d="M1464.5 418.5v-5.0M1520.8 418.5v-5.0M1577.0 418.5v-5.0M1633.2 418.5v-5.0M1689.5 418.5v-5.0M1745.8 418.5v-5.0M1802.0 418.5v-5.0M1858.2 418.5v-5.0M1914.5 418.5v-5.0" stroke="#262626" stroke-width="1.2" fill="none"/>
<g clip-path="url(#cp2)">
<path d="M1464.5 254.3L1464.8 264.7M1465.1 266.4L1465.4 259.3M1465.8 276.7L1466.1 304.4M1466.4 289.4L1466.7 278.8M1467.0 271.7L1467.3 279.8M1467.6 309.6L1467.9 309.6M1468.2 293.3L1468.6 272.9M1468.9 280.5L1469.2 287.3M1469.5 292.1L1469.8 245.9M1470.1 265.6L1470.4 260.1M1470.8 270.1L1471.1 270.7M1471.4 300.9L1471.7 288.9M1472.0 270.3L1472.3 271.7M1472.6 285.5L1472.9 294.0M1473.2 280.5L1473.6 272.7M1473.9 276.6L1474.2 289.5M1474.5 286.5L1474.8 287.5M1475.1 284.1L1475.4 288.2M1475.8 270.6L1476.1 271.2M1476.4 263.9L1476.7 268.5M1477.0 274.1L1477.3 277.0M1477.6 273.4L1477.9 272.0M1478.2 273.8L1478.6 279.0M1478.9 271.7L1479.2 280.2M1479.5 272.6L1479.8 268.6M1480.1 271.7L1480.4 267.0M1480.8 272.3L1481.1 264.8M1481.4 263.8L1481.7 257.8M1482.0 258.8L1482.3 262.0M1482.6 263.0L1482.9 271.8M1483.2 268.1L1483.6 259.4M1483.9 301.5L1484.2 281.5M1484.5 293.6L1484.8 284.3M1485.1 274.1L1485.4 271.6M1485.8 286.8L1486.1 268.5M1486.4 268.4L1486.7 278.3M1487.0 262.9L1487.3 267.3M1487.6 267.4L1487.9 281.0M1488.2 252.9L1488.6 261.4M1488.9 277.6L1489.2 275.6M1489.5 271.0L1489.8 268.4M1490.1 265.7L1490.4 260.8M1490.8 259.0L1491.1 270.7M1491.4 262.2L1491.7 268.8M1492.0 266.1L1492.3 265.8M1492.6 285.2L1492.9 288.1M1493.2 271.4L1493.6 283.3M1493.9 267.5L1494.2 260.3M1494.5 274.1L1494.8 244.3M1495.1 276.9L1495.4 276.0M1495.8 263.7L1496.1 266.7M1496.4 265.8L1496.7 250.6M1497.0 239.0L1497.3 242.5M1497.6 258.5L1497.9 265.5M1498.2 296.4L1498.6 303.9M1498.9 283.4L1499.2 276.7M1499.5 265.1L1499.8 255.6M1500.1 264.4L1500.4 280.4M1500.8 295.6L1501.1 278.8M1501.4 258.2L1501.7 282.4M1502.0 268.5L1502.3 273.8M1502.6 298.4L1502.9 309.6M1503.2 293.3L1503.6 290.6M1503.9 267.7L1504.2 231.6M1504.5 246.5L1504.8 247.7M1505.1 256.8L1505.4 270.8M1505.8 269.7L1506.1 300.6M1506.4 291.3L1506.7 268.2M1507.0 284.2L1507.3 286.2M1507.6 290.4L1507.9 285.8M1508.2 292.1L1508.6 295.9M1508.9 258.0L1509.2 269.1M1509.5 233.3L1509.8 247.4M1510.1 263.4L1510.4 276.9M1510.8 287.1L1511.1 260.9M1511.4 267.7L1511.7 276.1M1512.0 277.4L1512.3 253.0M1512.6 266.4L1512.9 282.4M1513.2 284.4L1513.6 279.8M1513.9 270.9L1514.2 271.5M1514.5 264.3L1514.8 271.6M1515.1 279.5L1515.4 290.4M1515.8 265.8L1516.1 265.2M1516.4 280.0L1516.7 293.1M1517.0 297.5L1517.3 289.0M1517.6 281.4L1517.9 275.6M1518.2 300.7L1518.6 211.0M1518.9 299.2L1519.2 277.2M1519.5 287.6L1519.8 285.4M1520.1 279.0L1520.4 267.7M1520.8 284.3L1521.1 275.0M1521.4 285.3L1521.7 277.7M1522.0 278.6L1522.3 276.0M1522.6 287.7L1522.9 279.7M1523.2 295.5L1523.6 282.5M1523.9 275.0L1524.2 265.7M1524.5 283.2L1524.8 281.5M1525.1 287.5L1525.4 281.5M1525.8 267.1L1526.1 265.0M1526.4 273.4L1526.7 270.4M1527.0 267.5L1527.3 261.8M1527.6 265.2L1527.9 268.7M1528.2 256.3L1528.6 262.7M1528.9 265.7L1529.2 266.6M1529.5 274.0L1529.8 267.1M1530.1 262.5L1530.4 268.1M1530.8 279.7L1531.1 273.3M1531.4 269.2L1531.7 266.4M1532.0 270.2L1532.3 269.3M1532.6 262.2L1532.9 273.6M1533.2 266.5L1533.6 264.9M1533.9 282.2L1534.2 270.5M1534.5 268.6L1534.8 270.1M1535.1 277.3L1535.4 276.2M1535.8 275.8L1536.1 274.4M1536.4 251.9L1536.7 255.8M1537.0 269.7L1537.3 263.8M1537.6 268.2L1537.9 258.2M1538.2 261.4L1538.6 266.7M1538.9 250.4L1539.2 279.6M1539.5 285.5L1539.8 276.7M1540.1 283.8L1540.4 263.8M1540.8 262.3L1541.1 283.4M1541.4 305.8L1541.7 292.5M1542.0 294.2L1542.3 293.6M1542.6 287.6L1542.9 263.3M1543.2 283.9L1543.6 274.0M1543.9 272.6L1544.2 270.0M1544.5 291.6L1544.8 309.6M1545.1 295.6L1545.4 273.4M1545.8 296.2L1546.1 298.0M1546.4 281.3L1546.7 285.9M1547.0 274.9L1547.3 291.0M1547.6 291.7L1547.9 284.4M1548.2 254.5L1548.6 245.6M1548.9 254.1L1549.2 272.6M1549.5 259.9L1549.8 242.7M1550.1 251.9L1550.4 250.0M1550.8 261.7L1551.1 264.1M1551.4 269.5L1551.7 269.5M1552.0 264.0L1552.3 259.6M1552.6 242.9L1552.9 247.3M1553.2 278.9L1553.6 274.7M1553.9 307.3L1554.2 294.8M1554.5 280.2L1554.8 267.0M1555.1 284.0L1555.4 285.0M1555.8 271.5L1556.1 275.7M1556.4 268.9L1556.7 267.7M1557.0 258.4L1557.3 250.9M1557.6 262.1L1557.9 269.3M1558.2 287.7L1558.6 285.5M1558.9 288.4L1559.2 276.2M1559.5 266.6L1559.8 250.2M1560.1 256.2L1560.4 263.5M1560.8 265.2L1561.1 278.4M1561.4 281.0L1561.7 286.9M1562.0 275.1L1562.3 274.7M1562.6 234.1L1562.9 231.6M1563.2 261.1L1563.6 265.4M1563.9 253.3L1564.2 251.2M1564.5 253.0L1564.8 263.0M1565.1 258.5L1565.4 257.7M1565.8 291.4L1566.1 309.6M1566.4 288.6L1566.7 303.2M1567.0 309.6L1567.3 306.7M1567.6 307.5L1567.9 284.1M1568.2 283.5L1568.6 275.7M1568.9 275.3L1569.2 248.5M1569.5 309.6L1569.8 289.5M1570.1 284.7L1570.4 288.9M1570.8 268.7L1571.1 240.8M1571.4 281.6L1571.7 277.3M1572.0 274.1L1572.3 297.6M1572.6 272.3L1572.9 258.6M1573.2 255.4L1573.6 239.2M1573.9 231.6L1574.2 259.7M1574.5 284.4L1574.8 282.3M1575.1 255.7L1575.4 298.4M1575.8 287.6L1576.1 284.9M1576.4 273.2L1576.7 308.9M1577.0 296.2L1577.3 271.8M1577.6 277.5L1577.9 293.6M1578.2 274.8L1578.6 271.3M1578.9 270.1L1579.2 272.3M1579.5 272.4L1579.8 273.9M1580.1 274.6L1580.4 270.6M1580.8 269.9L1581.1 248.9M1581.4 243.0L1581.7 253.4M1582.0 244.9L1582.3 267.2M1582.6 260.8L1582.9 272.1M1583.2 273.6L1583.6 288.7M1583.9 266.7L1584.2 261.7M1584.5 277.2L1584.8 282.8M1585.1 253.4L1585.4 256.5M1585.8 269.7L1586.1 254.4M1586.4 248.5L1586.7 271.5M1587.0 264.2L1587.3 271.2M1587.6 251.7L1587.9 264.8M1588.2 287.9L1588.6 297.9M1588.9 293.9L1589.2 268.9M1589.5 268.9L1589.8 274.3M1590.1 309.6L1590.4 298.1M1590.8 296.3L1591.1 264.7M1591.4 300.5L1591.7 301.3M1592.0 294.8L1592.3 280.7M1592.6 241.2L1592.9 239.8M1593.2 272.7L1593.6 273.0M1593.9 270.7L1594.2 280.4M1594.5 263.7L1594.8 258.4M1595.1 251.4L1595.4 247.2M1595.8 246.3L1596.1 291.0M1596.4 292.1L1596.7 284.2M1597.0 281.4L1597.3 285.1M1597.6 281.2L1597.9 272.2M1598.2 273.5L1598.6 249.5M1598.9 285.3L1599.2 297.6M1599.5 270.6L1599.8 309.6M1600.1 307.1L1600.4 284.6M1600.8 281.2L1601.1 262.2M1601.4 231.6L1601.7 231.9M1602.0 246.5L1602.3 252.7M1602.6 241.2L1602.9 256.4M1603.2 267.6L1603.6 256.0M1603.9 266.8L1604.2 265.6M1604.5 260.6L1604.8 265.7M1605.1 260.1L1605.4 270.1M1605.8 270.9L1606.1 266.8M1606.4 272.9L1606.7 268.8M1607.0 259.7L1607.3 275.4M1607.6 276.1L1607.9 276.4M1608.2 275.3L1608.6 283.2M1608.9 277.6L1609.2 270.8M1609.5 253.6L1609.8 264.9M1610.1 267.8L1610.4 258.1M1610.8 263.1L1611.1 259.7M1611.4 264.3L1611.7 254.6M1612.0 254.7L1612.3 249.5M1612.6 231.6L1612.9 249.4M1613.2 270.8L1613.6 273.3M1613.9 279.6L1614.2 259.6M1614.5 269.5L1614.8 280.1M1615.1 276.9L1615.4 274.7M1615.8 258.4L1616.1 255.4M1616.4 253.0L1616.7 275.8M1617.0 266.7L1617.3 273.6M1617.6 282.4L1617.9 258.8M1618.2 272.8L1618.6 269.9M1618.9 249.3L1619.2 240.0M1619.5 253.5L1619.8 258.1M1620.1 275.9L1620.4 255.4M1620.8 295.9L1621.1 280.1M1621.4 286.1L1621.7 269.6M1622.0 264.8L1622.3 273.0M1622.6 279.7L1622.9 280.2M1623.2 278.0L1623.6 273.9M1623.9 276.1L1624.2 276.2M1624.5 278.0L1624.8 286.6M1625.1 284.6L1625.4 277.6M1625.8 231.6L1626.1 255.1M1626.4 261.0L1626.7 280.9M1627.0 250.3L1627.3 231.6M1627.6 243.4L1627.9 257.0M1628.2 265.0L1628.6 262.6M1628.9 258.4L1629.2 269.5M1629.5 267.6L1629.8 272.2M1630.1 248.0L1630.4 274.0M1630.8 267.9L1631.1 278.3M1631.4 274.0L1631.7 245.9M1632.0 241.3L1632.3 256.3M1632.6 270.7L1632.9 268.9M1633.2 268.0L1633.6 270.3M1633.9 270.6L1634.2 249.2M1634.5 258.1L1634.8 265.1M1635.1 248.2L1635.4 254.9M1635.8 283.7L1636.1 277.5M1636.4 263.4L1636.7 269.9M1637.0 283.6L1637.3 263.2M1637.6 278.9L1637.9 253.6M1638.2 256.1L1638.6 267.4M1638.9 279.5L1639.2 259.0M1639.5 272.2L1639.8 270.5M1640.1 251.7L1640.4 270.8M1640.8 287.0L1641.1 287.9M1641.4 284.2L1641.7 275.2M1642.0 272.1L1642.3 271.8M1642.6 276.5L1642.9 254.1M1643.2 259.4L1643.6 254.8M1643.9 262.6L1644.2 263.3M1644.5 245.1L1644.8 246.4M1645.1 254.1L1645.4 269.9M1645.8 270.1L1646.1 164.3M1646.4 248.9L1646.7 259.7M1647.0 265.2L1647.3 240.4M1647.6 261.5L1647.9 330.0M1648.2 278.8L1648.6 267.2M1648.9 261.1L1649.2 237.4M1649.5 242.6L1649.8 404.0M1650.1 243.8L1650.4 234.5M1650.8 264.0L1651.1 267.8M1651.4 258.8L1651.7 264.6M1652.0 279.5L1652.3 310.2M1652.6 315.2L1652.9 267.4M1653.2 297.2L1653.6 273.9M1653.9 223.9L1654.2 255.8M1654.5 280.9L1654.8 299.4M1655.1 330.0L1655.4 278.5M1655.8 247.2L1656.1 249.3M1656.4 176.0L1656.7 287.6M1657.0 280.7L1657.3 288.8M1657.6 282.0L1657.9 284.3M1658.2 282.1L1658.6 254.5M1658.9 258.9L1659.2 243.4M1659.5 291.3L1659.8 270.7M1660.1 270.0L1660.4 278.3M1660.8 287.2L1661.1 237.2M1661.4 251.4L1661.7 282.2M1662.0 279.7L1662.3 286.6M1662.6 259.3L1662.9 261.9M1663.2 256.4L1663.6 263.0M1663.9 269.2L1664.2 262.6M1664.5 261.6L1664.8 271.6M1665.1 275.6L1665.4 293.6M1665.8 282.1L1666.1 284.0M1666.4 263.5L1666.7 269.0M1667.0 257.0L1667.3 254.2M1667.6 299.5L1667.9 292.1M1668.2 280.2L1668.6 279.2M1668.9 277.0L1669.2 266.7M1669.5 272.3L1669.8 246.1M1670.1 249.9L1670.4 280.7M1670.8 232.4L1671.1 247.2M1671.4 312.6L1671.7 306.8M1672.0 270.0L1672.3 258.9M1672.6 258.0L1672.9 300.7M1673.2 310.3L1673.6 297.9M1673.9 270.4L1674.2 283.9M1674.5 282.4L1674.8 280.6M1675.1 312.6L1675.4 312.6M1675.8 294.4L1676.1 293.5M1676.4 276.0L1676.7 271.2M1677.0 279.1L1677.3 245.3M1677.6 245.9L1677.9 267.8M1678.2 270.0L1678.6 274.9M1678.9 312.6L1679.2 297.3M1679.5 283.2L1679.8 288.2M1680.1 273.6L1680.4 275.2M1680.8 287.4L1681.1 261.6M1681.4 260.4L1681.7 276.5M1682.0 281.0L1682.3 263.7M1682.6 262.6L1682.9 288.8M1683.2 249.7L1683.6 277.3M1683.9 254.4L1684.2 274.9M1684.5 258.8L1684.8 265.9M1685.1 258.2L1685.4 265.1M1685.8 286.5L1686.1 268.6M1686.4 253.1L1686.7 226.2M1687.0 227.7L1687.3 302.8M1687.6 271.7L1687.9 244.8M1688.2 230.6L1688.6 253.6M1688.9 272.8L1689.2 116.9M1689.5 242.9L1689.8 267.6M1690.1 224.0L1690.4 248.2M1690.8 242.6L1691.1 261.8M1691.4 268.6L1691.7 253.0M1692.0 330.0L1692.3 228.5M1692.6 240.1L1692.9 280.4M1693.2 240.7L1693.6 258.6M1693.9 389.0L1694.2 285.6M1694.5 296.5L1694.8 302.5M1695.1 275.0L1695.4 288.5M1695.8 242.2L1696.1 248.9M1696.4 262.7L1696.7 274.2M1697.0 340.0L1697.3 288.3M1697.6 279.6L1697.9 321.0M1698.2 284.2L1698.6 256.2M1698.9 179.6L1699.2 238.6M1699.5 233.2L1699.8 250.1M1700.1 260.9L1700.4 185.0M1700.8 253.4L1701.1 244.7M1701.4 230.7L1701.7 249.6M1702.0 260.4L1702.3 262.8M1702.6 282.3L1702.9 277.4M1703.2 298.2L1703.6 283.5M1703.9 350.0L1704.2 245.2M1704.5 215.0L1704.8 229.2M1705.1 238.0L1705.4 204.6M1705.8 409.0L1706.1 287.3M1706.4 272.8L1706.7 256.9M1707.0 282.0L1707.3 252.3M1707.6 261.6L1707.9 275.9M1708.2 239.1L1708.6 263.3M1708.9 192.0L1709.2 329.0M1709.5 303.8L1709.8 231.9M1710.1 298.1L1710.4 312.8M1710.8 321.5L1711.1 287.3M1711.4 291.5L1711.7 291.1M1712.0 287.3L1712.3 260.5M1712.6 255.0L1712.9 264.4M1713.2 283.7L1713.6 289.1M1713.9 264.8L1714.2 265.1M1714.5 251.6L1714.8 283.5M1715.1 238.0L1715.4 263.7M1715.8 245.2L1716.1 275.5M1716.4 278.1L1716.7 273.8M1717.0 290.7L1717.3 273.1M1717.6 280.3L1717.9 279.3M1718.2 283.7L1718.6 270.7M1718.9 271.3L1719.2 262.3M1719.5 282.6L1719.8 286.6M1720.1 288.0L1720.4 272.1M1720.8 274.7L1721.1 286.1M1721.4 294.8L1721.7 249.2M1722.0 266.9L1722.3 261.1M1722.6 270.3L1722.9 271.9M1723.2 281.2L1723.6 283.7M1723.9 290.6L1724.2 291.3M1724.5 284.5L1724.8 275.8M1725.1 283.0L1725.4 312.6M1725.8 276.7L1726.1 277.4M1726.4 295.4L1726.7 283.9M1727.0 269.0L1727.3 262.6M1727.6 269.3L1727.9 264.0M1728.2 254.2L1728.6 255.7M1728.9 263.9L1729.2 255.4M1729.5 265.5L1729.8 260.2M1730.1 268.0L1730.4 261.7M1730.8 255.0L1731.1 258.3M1731.4 267.8L1731.7 273.7M1732.0 274.5L1732.3 277.1M1732.6 277.3L1732.9 281.9M1733.2 281.9L1733.6 273.9M1733.9 270.5L1734.2 279.0M1734.5 277.4L1734.8 283.3M1735.1 289.6L1735.4 275.3M1735.8 279.5L1736.1 286.2M1736.4 276.6L1736.7 265.9M1737.0 268.7L1737.3 270.6M1737.6 269.8L1737.9 265.1M1738.2 259.1L1738.6 305.2M1738.9 293.9L1739.2 276.4M1739.5 270.3L1739.8 265.4M1740.1 275.5L1740.4 278.3M1740.8 277.2L1741.1 267.6M1741.4 274.3L1741.7 277.9M1742.0 263.5L1742.3 257.2M1742.6 266.2L1742.9 265.5M1743.2 250.4L1743.6 228.9M1743.9 251.1L1744.2 264.0M1744.5 262.2L1744.8 239.6M1745.1 278.0L1745.4 298.3M1745.8 252.4L1746.1 261.9M1746.4 251.6L1746.7 254.0M1747.0 268.6L1747.3 292.6M1747.6 287.5L1747.9 293.5M1748.2 287.5L1748.6 292.6M1748.9 277.8L1749.2 285.3M1749.5 261.6L1749.8 280.1M1750.1 296.5L1750.4 295.8M1750.8 277.7L1751.1 278.9M1751.4 257.6L1751.7 260.5M1752.0 273.1L1752.3 275.0M1752.6 249.1L1752.9 262.1M1753.2 295.4L1753.6 299.4M1753.9 272.3L1754.2 262.7M1754.5 287.7L1754.8 252.6M1755.1 272.1L1755.4 282.8M1755.8 255.4L1756.1 252.6M1756.4 292.2L1756.7 280.5M1757.0 289.6L1757.3 299.3M1757.6 293.7L1757.9 293.2M1758.2 312.6L1758.6 256.0M1758.9 263.9L1759.2 242.4M1759.5 265.1L1759.8 278.7M1760.1 264.2L1760.4 298.2" fill="none" stroke="#000" stroke-opacity="0.24" stroke-width="0.9" stroke-linecap="round"/>
<path d="M1464.8 264.7L1465.1 266.4M1465.4 259.3L1465.8 276.7M1466.1 304.4L1466.4 289.4M1466.7 278.8L1467.0 271.7M1467.3 279.8L1467.6 309.6M1467.9 309.6L1468.2 293.3M1468.6 272.9L1468.9 280.5M1469.2 287.3L1469.5 292.1M1469.8 245.9L1470.1 265.6M1470.4 260.1L1470.8 270.1M1471.1 270.7L1471.4 300.9M1471.7 288.9L1472.0 270.3M1472.3 271.7L1472.6 285.5M1472.9 294.0L1473.2 280.5M1473.6 272.7L1473.9 276.6M1474.2 289.5L1474.5 286.5M1474.8 287.5L1475.1 284.1M1475.4 288.2L1475.8 270.6M1476.1 271.2L1476.4 263.9M1476.7 268.5L1477.0 274.1M1477.3 277.0L1477.6 273.4M1477.9 272.0L1478.2 273.8M1478.6 279.0L1478.9 271.7M1479.2 280.2L1479.5 272.6M1479.8 268.6L1480.1 271.7M1480.4 267.0L1480.8 272.3M1481.1 264.8L1481.4 263.8M1481.7 257.8L1482.0 258.8M1482.3 262.0L1482.6 263.0M1482.9 271.8L1483.2 268.1M1483.6 259.4L1483.9 301.5M1484.2 281.5L1484.5 293.6M1484.8 284.3L1485.1 274.1M1485.4 271.6L1485.8 286.8M1486.1 268.5L1486.4 268.4M1486.7 278.3L1487.0 262.9M1487.3 267.3L1487.6 267.4M1487.9 281.0L1488.2 252.9M1488.6 261.4L1488.9 277.6M1489.2 275.6L1489.5 271.0M1489.8 268.4L1490.1 265.7M1490.4 260.8L1490.8 259.0M1491.1 270.7L1491.4 262.2M1491.7 268.8L1492.0 266.1M1492.3 265.8L1492.6 285.2M1492.9 288.1L1493.2 271.4M1493.6 283.3L1493.9 267.5M1494.2 260.3L1494.5 274.1M1494.8 244.3L1495.1 276.9M1495.4 276.0L1495.8 263.7M1496.1 266.7L1496.4 265.8M1496.7 250.6L1497.0 239.0M1497.3 242.5L1497.6 258.5M1497.9 265.5L1498.2 296.4M1498.6 303.9L1498.9 283.4M1499.2 276.7L1499.5 265.1M1499.8 255.6L1500.1 264.4M1500.4 280.4L1500.8 295.6M1501.1 278.8L1501.4 258.2M1501.7 282.4L1502.0 268.5M1502.3 273.8L1502.6 298.4M1502.9 309.6L1503.2 293.3M1503.6 290.6L1503.9 267.7M1504.2 231.6L1504.5 246.5M1504.8 247.7L1505.1 256.8M1505.4 270.8L1505.8 269.7M1506.1 300.6L1506.4 291.3M1506.7 268.2L1507.0 284.2M1507.3 286.2L1507.6 290.4M1507.9 285.8L1508.2 292.1M1508.6 295.9L1508.9 258.0M1509.2 269.1L1509.5 233.3M1509.8 247.4L1510.1 263.4M1510.4 276.9L1510.8 287.1M1511.1 260.9L1511.4 267.7M1511.7 276.1L1512.0 277.4M1512.3 253.0L1512.6 266.4M1512.9 282.4L1513.2 284.4M1513.6 279.8L1513.9 270.9M1514.2 271.5L1514.5 264.3M1514.8 271.6L1515.1 279.5M1515.4 290.4L1515.8 265.8M1516.1 265.2L1516.4 280.0M1516.7 293.1L1517.0 297.5M1517.3 289.0L1517.6 281.4M1517.9 275.6L1518.2 300.7M1518.6 211.0L1518.9 299.2M1519.2 277.2L1519.5 287.6M1519.8 285.4L1520.1 279.0M1520.4 267.7L1520.8 284.3M1521.1 275.0L1521.4 285.3M1521.7 277.7L1522.0 278.6M1522.3 276.0L1522.6 287.7M1522.9 279.7L1523.2 295.5M1523.6 282.5L1523.9 275.0M1524.2 265.7L1524.5 283.2M1524.8 281.5L1525.1 287.5M1525.4 281.5L1525.8 267.1M1526.1 265.0L1526.4 273.4M1526.7 270.4L1527.0 267.5M1527.3 261.8L1527.6 265.2M1527.9 268.7L1528.2 256.3M1528.6 262.7L1528.9 265.7M1529.2 266.6L1529.5 274.0M1529.8 267.1L1530.1 262.5M1530.4 268.1L1530.8 279.7M1531.1 273.3L1531.4 269.2M1531.7 266.4L1532.0 270.2M1532.3 269.3L1532.6 262.2M1532.9 273.6L1533.2 266.5M1533.6 264.9L1533.9 282.2M1534.2 270.5L1534.5 268.6M1534.8 270.1L1535.1 277.3M1535.4 276.2L1535.8 275.8M1536.1 274.4L1536.4 251.9M1536.7 255.8L1537.0 269.7M1537.3 263.8L1537.6 268.2M1537.9 258.2L1538.2 261.4M1538.6 266.7L1538.9 250.4M1539.2 279.6L1539.5 285.5M1539.8 276.7L1540.1 283.8M1540.4 263.8L1540.8 262.3M1541.1 283.4L1541.4 305.8M1541.7 292.5L1542.0 294.2M1542.3 293.6L1542.6 287.6M1542.9 263.3L1543.2 283.9M1543.6 274.0L1543.9 272.6M1544.2 270.0L1544.5 291.6M1544.8 309.6L1545.1 295.6M1545.4 273.4L1545.8 296.2M1546.1 298.0L1546.4 281.3M1546.7 285.9L1547.0 274.9M1547.3 291.0L1547.6 291.7M1547.9 284.4L1548.2 254.5M1548.6 245.6L1548.9 254.1M1549.2 272.6L1549.5 259.9M1549.8 242.7L1550.1 251.9M1550.4 250.0L1550.8 261.7M1551.1 264.1L1551.4 269.5M1551.7 269.5L1552.0 264.0M1552.3 259.6L1552.6 242.9M1552.9 247.3L1553.2 278.9M1553.6 274.7L1553.9 307.3M1554.2 294.8L1554.5 280.2M1554.8 267.0L1555.1 284.0M1555.4 285.0L1555.8 271.5M1556.1 275.7L1556.4 268.9M1556.7 267.7L1557.0 258.4M1557.3 250.9L1557.6 262.1M1557.9 269.3L1558.2 287.7M1558.6 285.5L1558.9 288.4M1559.2 276.2L1559.5 266.6M1559.8 250.2L1560.1 256.2M1560.4 263.5L1560.8 265.2M1561.1 278.4L1561.4 281.0M1561.7 286.9L1562.0 275.1M1562.3 274.7L1562.6 234.1M1562.9 231.6L1563.2 261.1M1563.6 265.4L1563.9 253.3M1564.2 251.2L1564.5 253.0M1564.8 263.0L1565.1 258.5M1565.4 257.7L1565.8 291.4M1566.1 309.6L1566.4 288.6M1566.7 303.2L1567.0 309.6M1567.3 306.7L1567.6 307.5M1567.9 284.1L1568.2 283.5M1568.6 275.7L1568.9 275.3M1569.2 248.5L1569.5 309.6M1569.8 289.5L1570.1 284.7M1570.4 288.9L1570.8 268.7M1571.1 240.8L1571.4 281.6M1571.7 277.3L1572.0 274.1M1572.3 297.6L1572.6 272.3M1572.9 258.6L1573.2 255.4M1573.6 239.2L1573.9 231.6M1574.2 259.7L1574.5 284.4M1574.8 282.3L1575.1 255.7M1575.4 298.4L1575.8 287.6M1576.1 284.9L1576.4 273.2M1576.7 308.9L1577.0 296.2M1577.3 271.8L1577.6 277.5M1577.9 293.6L1578.2 274.8M1578.6 271.3L1578.9 270.1M1579.2 272.3L1579.5 272.4M1579.8 273.9L1580.1 274.6M1580.4 270.6L1580.8 269.9M1581.1 248.9L1581.4 243.0M1581.7 253.4L1582.0 244.9M1582.3 267.2L1582.6 260.8M1582.9 272.1L1583.2 273.6M1583.6 288.7L1583.9 266.7M1584.2 261.7L1584.5 277.2M1584.8 282.8L1585.1 253.4M1585.4 256.5L1585.8 269.7M1586.1 254.4L1586.4 248.5M1586.7 271.5L1587.0 264.2M1587.3 271.2L1587.6 251.7M1587.9 264.8L1588.2 287.9M1588.6 297.9L1588.9 293.9M1589.2 268.9L1589.5 268.9M1589.8 274.3L1590.1 309.6M1590.4 298.1L1590.8 296.3M1591.1 264.7L1591.4 300.5M1591.7 301.3L1592.0 294.8M1592.3 280.7L1592.6 241.2M1592.9 239.8L1593.2 272.7M1593.6 273.0L1593.9 270.7M1594.2 280.4L1594.5 263.7M1594.8 258.4L1595.1 251.4M1595.4 247.2L1595.8 246.3M1596.1 291.0L1596.4 292.1M1596.7 284.2L1597.0 281.4M1597.3 285.1L1597.6 281.2M1597.9 272.2L1598.2 273.5M1598.6 249.5L1598.9 285.3M1599.2 297.6L1599.5 270.6M1599.8 309.6L1600.1 307.1M1600.4 284.6L1600.8 281.2M1601.1 262.2L1601.4 231.6M1601.7 231.9L1602.0 246.5M1602.3 252.7L1602.6 241.2M1602.9 256.4L1603.2 267.6M1603.6 256.0L1603.9 266.8M1604.2 265.6L1604.5 260.6M1604.8 265.7L1605.1 260.1M1605.4 270.1L1605.8 270.9M1606.1 266.8L1606.4 272.9M1606.7 268.8L1607.0 259.7M1607.3 275.4L1607.6 276.1M1607.9 276.4L1608.2 275.3M1608.6 283.2L1608.9 277.6M1609.2 270.8L1609.5 253.6M1609.8 264.9L1610.1 267.8M1610.4 258.1L1610.8 263.1M1611.1 259.7L1611.4 264.3M1611.7 254.6L1612.0 254.7M1612.3 249.5L1612.6 231.6M1612.9 249.4L1613.2 270.8M1613.6 273.3L1613.9 279.6M1614.2 259.6L1614.5 269.5M1614.8 280.1L1615.1 276.9M1615.4 274.7L1615.8 258.4M1616.1 255.4L1616.4 253.0M1616.7 275.8L1617.0 266.7M1617.3 273.6L1617.6 282.4M1617.9 258.8L1618.2 272.8M1618.6 269.9L1618.9 249.3M1619.2 240.0L1619.5 253.5M1619.8 258.1L1620.1 275.9M1620.4 255.4L1620.8 295.9M1621.1 280.1L1621.4 286.1M1621.7 269.6L1622.0 264.8M1622.3 273.0L1622.6 279.7M1622.9 280.2L1623.2 278.0M1623.6 273.9L1623.9 276.1M1624.2 276.2L1624.5 278.0M1624.8 286.6L1625.1 284.6M1625.4 277.6L1625.8 231.6M1626.1 255.1L1626.4 261.0M1626.7 280.9L1627.0 250.3M1627.3 231.6L1627.6 243.4M1627.9 257.0L1628.2 265.0M1628.6 262.6L1628.9 258.4M1629.2 269.5L1629.5 267.6M1629.8 272.2L1630.1 248.0M1630.4 274.0L1630.8 267.9M1631.1 278.3L1631.4 274.0M1631.7 245.9L1632.0 241.3M1632.3 256.3L1632.6 270.7M1632.9 268.9L1633.2 268.0M1633.6 270.3L1633.9 270.6M1634.2 249.2L1634.5 258.1M1634.8 265.1L1635.1 248.2M1635.4 254.9L1635.8 283.7M1636.1 277.5L1636.4 263.4M1636.7 269.9L1637.0 283.6M1637.3 263.2L1637.6 278.9M1637.9 253.6L1638.2 256.1M1638.6 267.4L1638.9 279.5M1639.2 259.0L1639.5 272.2M1639.8 270.5L1640.1 251.7M1640.4 270.8L1640.8 287.0M1641.1 287.9L1641.4 284.2M1641.7 275.2L1642.0 272.1M1642.3 271.8L1642.6 276.5M1642.9 254.1L1643.2 259.4M1643.6 254.8L1643.9 262.6M1644.2 263.3L1644.5 245.1M1644.8 246.4L1645.1 254.1M1645.4 269.9L1645.8 270.1M1646.1 164.3L1646.4 248.9M1646.7 259.7L1647.0 265.2M1647.3 240.4L1647.6 261.5M1647.9 330.0L1648.2 278.8M1648.6 267.2L1648.9 261.1M1649.2 237.4L1649.5 242.6M1649.8 404.0L1650.1 243.8M1650.4 234.5L1650.8 264.0M1651.1 267.8L1651.4 258.8M1651.7 264.6L1652.0 279.5M1652.3 310.2L1652.6 315.2M1652.9 267.4L1653.2 297.2M1653.6 273.9L1653.9 223.9M1654.2 255.8L1654.5 280.9M1654.8 299.4L1655.1 330.0M1655.4 278.5L1655.8 247.2M1656.1 249.3L1656.4 176.0M1656.7 287.6L1657.0 280.7M1657.3 288.8L1657.6 282.0M1657.9 284.3L1658.2 282.1M1658.6 254.5L1658.9 258.9M1659.2 243.4L1659.5 291.3M1659.8 270.7L1660.1 270.0M1660.4 278.3L1660.8 287.2M1661.1 237.2L1661.4 251.4M1661.7 282.2L1662.0 279.7M1662.3 286.6L1662.6 259.3M1662.9 261.9L1663.2 256.4M1663.6 263.0L1663.9 269.2M1664.2 262.6L1664.5 261.6M1664.8 271.6L1665.1 275.6M1665.4 293.6L1665.8 282.1M1666.1 284.0L1666.4 263.5M1666.7 269.0L1667.0 257.0M1667.3 254.2L1667.6 299.5M1667.9 292.1L1668.2 280.2M1668.6 279.2L1668.9 277.0M1669.2 266.7L1669.5 272.3M1669.8 246.1L1670.1 249.9M1670.4 280.7L1670.8 232.4M1671.1 247.2L1671.4 312.6M1671.7 306.8L1672.0 270.0M1672.3 258.9L1672.6 258.0M1672.9 300.7L1673.2 310.3M1673.6 297.9L1673.9 270.4M1674.2 283.9L1674.5 282.4M1674.8 280.6L1675.1 312.6M1675.4 312.6L1675.8 294.4M1676.1 293.5L1676.4 276.0M1676.7 271.2L1677.0 279.1M1677.3 245.3L1677.6 245.9M1677.9 267.8L1678.2 270.0M1678.6 274.9L1678.9 312.6M1679.2 297.3L1679.5 283.2M1679.8 288.2L1680.1 273.6M1680.4 275.2L1680.8 287.4M1681.1 261.6L1681.4 260.4M1681.7 276.5L1682.0 281.0M1682.3 263.7L1682.6 262.6M1682.9 288.8L1683.2 249.7M1683.6 277.3L1683.9 254.4M1684.2 274.9L1684.5 258.8M1684.8 265.9L1685.1 258.2M1685.4 265.1L1685.8 286.5M1686.1 268.6L1686.4 253.1M1686.7 226.2L1687.0 227.7M1687.3 302.8L1687.6 271.7M1687.9 244.8L1688.2 230.6M1688.6 253.6L1688.9 272.8M1689.2 116.9L1689.5 242.9M1689.8 267.6L1690.1 224.0M1690.4 248.2L1690.8 242.6M1691.1 261.8L1691.4 268.6M1691.7 253.0L1692.0 330.0M1692.3 228.5L1692.6 240.1M1692.9 280.4L1693.2 240.7M1693.6 258.6L1693.9 389.0M1694.2 285.6L1694.5 296.5M1694.8 302.5L1695.1 275.0M1695.4 288.5L1695.8 242.2M1696.1 248.9L1696.4 262.7M1696.7 274.2L1697.0 340.0M1697.3 288.3L1697.6 279.6M1697.9 321.0L1698.2 284.2M1698.6 256.2L1698.9 179.6M1699.2 238.6L1699.5 233.2M1699.8 250.1L1700.1 260.9M1700.4 185.0L1700.8 253.4M1701.1 244.7L1701.4 230.7M1701.7 249.6L1702.0 260.4M1702.3 262.8L1702.6 282.3M1702.9 277.4L1703.2 298.2M1703.6 283.5L1703.9 350.0M1704.2 245.2L1704.5 215.0M1704.8 229.2L1705.1 238.0M1705.4 204.6L1705.8 409.0M1706.1 287.3L1706.4 272.8M1706.7 256.9L1707.0 282.0M1707.3 252.3L1707.6 261.6M1707.9 275.9L1708.2 239.1M1708.6 263.3L1708.9 192.0M1709.2 329.0L1709.5 303.8M1709.8 231.9L1710.1 298.1M1710.4 312.8L1710.8 321.5M1711.1 287.3L1711.4 291.5M1711.7 291.1L1712.0 287.3M1712.3 260.5L1712.6 255.0M1712.9 264.4L1713.2 283.7M1713.6 289.1L1713.9 264.8M1714.2 265.1L1714.5 251.6M1714.8 283.5L1715.1 238.0M1715.4 263.7L1715.8 245.2M1716.1 275.5L1716.4 278.1M1716.7 273.8L1717.0 290.7M1717.3 273.1L1717.6 280.3M1717.9 279.3L1718.2 283.7M1718.6 270.7L1718.9 271.3M1719.2 262.3L1719.5 282.6M1719.8 286.6L1720.1 288.0M1720.4 272.1L1720.8 274.7M1721.1 286.1L1721.4 294.8M1721.7 249.2L1722.0 266.9M1722.3 261.1L1722.6 270.3M1722.9 271.9L1723.2 281.2M1723.6 283.7L1723.9 290.6M1724.2 291.3L1724.5 284.5M1724.8 275.8L1725.1 283.0M1725.4 312.6L1725.8 276.7M1726.1 277.4L1726.4 295.4M1726.7 283.9L1727.0 269.0M1727.3 262.6L1727.6 269.3M1727.9 264.0L1728.2 254.2M1728.6 255.7L1728.9 263.9M1729.2 255.4L1729.5 265.5M1729.8 260.2L1730.1 268.0M1730.4 261.7L1730.8 255.0M1731.1 258.3L1731.4 267.8M1731.7 273.7L1732.0 274.5M1732.3 277.1L1732.6 277.3M1732.9 281.9L1733.2 281.9M1733.6 273.9L1733.9 270.5M1734.2 279.0L1734.5 277.4M1734.8 283.3L1735.1 289.6M1735.4 275.3L1735.8 279.5M1736.1 286.2L1736.4 276.6M1736.7 265.9L1737.0 268.7M1737.3 270.6L1737.6 269.8M1737.9 265.1L1738.2 259.1M1738.6 305.2L1738.9 293.9M1739.2 276.4L1739.5 270.3M1739.8 265.4L1740.1 275.5M1740.4 278.3L1740.8 277.2M1741.1 267.6L1741.4 274.3M1741.7 277.9L1742.0 263.5M1742.3 257.2L1742.6 266.2M1742.9 265.5L1743.2 250.4M1743.6 228.9L1743.9 251.1M1744.2 264.0L1744.5 262.2M1744.8 239.6L1745.1 278.0M1745.4 298.3L1745.8 252.4M1746.1 261.9L1746.4 251.6M1746.7 254.0L1747.0 268.6M1747.3 292.6L1747.6 287.5M1747.9 293.5L1748.2 287.5M1748.6 292.6L1748.9 277.8M1749.2 285.3L1749.5 261.6M1749.8 280.1L1750.1 296.5M1750.4 295.8L1750.8 277.7M1751.1 278.9L1751.4 257.6M1751.7 260.5L1752.0 273.1M1752.3 275.0L1752.6 249.1M1752.9 262.1L1753.2 295.4M1753.6 299.4L1753.9 272.3M1754.2 262.7L1754.5 287.7M1754.8 252.6L1755.1 272.1M1755.4 282.8L1755.8 255.4M1756.1 252.6L1756.4 292.2M1756.7 280.5L1757.0 289.6M1757.3 299.3L1757.6 293.7M1757.9 293.2L1758.2 312.6M1758.6 256.0L1758.9 263.9M1759.2 242.4L1759.5 265.1M1759.8 278.7L1760.1 264.2M1760.4 298.2L1760.8 280.4" fill="none" stroke="#000" stroke-opacity="0.24" stroke-width="0.9" stroke-linecap="round"/>
<path d="M1464.5 196.9H1914.5" stroke="#ff0000" stroke-width="3.1" fill="none"/>
<path d="M1464.5 344.3H1914.5" stroke="#ff0000" stroke-width="3.1" fill="none"/>
<path d="M1464.5 209.2H1914.5" stroke="#ffff00" stroke-width="3.1" fill="none"/>
<path d="M1464.5 332.0H1914.5" stroke="#ffff00" stroke-width="3.1" fill="none"/>
<path d="M1464.5 227.6H1914.5" stroke="#00ff00" stroke-width="3.1" fill="none"/>
<path d="M1464.5 313.6H1914.5" stroke="#00ff00" stroke-width="3.1" fill="none"/>
<path d="M1762.7 270.8H1914.5" stroke="#0000ff" stroke-width="4" fill="none"/>
<polyline points="1465.3,303.6 1467.0,300.1 1468.3,293.8 1469.7,288.3 1470.9,284.8 1472.2,291.0 1473.6,293.1 1475.3,291.7 1476.7,289.0 1478.8,281.3 1480.6,274.3 1482.3,270.2 1483.9,266.0 1485.0,259.0 1486.4,257.0 1488.5,254.9 1489.9,252.8 1491.3,247.9 1493.1,243.0 1494.8,247.9 1495.9,250.7 1497.3,247.2 1499.0,242.3 1500.6,240.3 1502.4,241.0 1504.2,241.0 1505.6,242.3 1507.3,236.8 1509.0,232.6 1510.4,236.8 1511.8,243.7 1513.1,250.7 1515.0,252.8 1516.3,259.0 1517.3,262.5 1518.4,254.9 1519.8,250.7 1521.2,257.0 1522.6,252.1 1524.3,243.7 1526.1,235.4 1528.2,231.2 1529.8,235.4 1531.2,243.7 1532.6,250.7 1534.0,253.5 1535.8,248.6 1537.2,250.0 1539.3,252.1 1540.7,256.3 1542.1,263.2 1543.5,270.2 1545.1,275.7 1547.0,278.5 1548.3,275.7 1549.7,270.2 1551.1,267.4 1552.9,266.7 1554.6,270.9 1556.3,268.8 1558.1,263.2 1559.9,257.7 1561.6,253.5 1563.0,259.0 1564.3,264.6 1565.7,268.1 1567.1,267.4 1568.5,264.6 1569.9,256.3 1571.3,246.5 1573.0,238.2 1574.1,234.7 1575.5,241.0 1576.6,249.3 1578.3,250.0 1579.9,250.7 1581.3,256.3 1583.1,264.6 1584.5,268.8 1585.9,266.0 1587.3,256.3 1588.7,247.9 1590.1,244.4 1591.5,243.7 1593.3,245.8 1595.0,248.6 1596.3,253.5 1597.7,261.8 1599.1,268.8 1600.5,270.9 1601.9,267.4 1603.3,260.4 1604.7,253.5 1605.8,247.9 1606.8,234.0 1608.2,222.9 1609.6,219.4 1611.0,225.7 1612.3,234.0 1613.7,240.3 1615.1,231.2 1616.9,225.7 1618.3,234.0 1619.5,245.1 1620.4,253.5 1621.8,257.7 1623.2,247.9 1624.6,238.9 1626.0,242.3 1627.0,249.3 1628.1,257.7 1629.5,264.6 1631.6,266.0 1633.0,268.1 1635.0,270.9 1636.4,267.4 1637.8,264.6 1639.2,260.4 1640.9,257.7 1642.0,266.0 1643.4,274.3 1644.5,260.4 1645.5,232.6 1646.5,211.7 1647.6,202.7 1649.0,211.7 1650.1,232.6 1651.0,260.4 1651.7,281.3 1652.4,295.2 1653.8,293.8 1654.5,303.6 1655.5,316.1 1656.6,306.3 1657.6,288.3 1658.7,267.4 1659.8,259.0 1661.2,256.3 1662.6,249.3 1664.0,245.8 1665.0,253.5 1665.9,264.6 1667.0,275.7 1668.4,289.7 1670.5,299.4 1671.9,291.0 1673.3,281.3 1674.7,275.0 1676.5,274.3 1678.2,270.2 1679.6,275.7 1681.2,277.1 1683.0,278.5 1684.4,285.5 1685.8,295.2 1687.2,292.4 1689.0,302.9 1690.0,288.3 1690.7,267.4 1691.4,250.7 1692.4,238.2 1693.5,247.9 1694.6,270.2 1695.6,295.2 1696.5,323.0 1697.7,346.0 1699.0,323.0 1700.4,288.3 1701.8,256.3 1702.9,238.2 1704.2,232.6 1705.3,245.1 1706.3,267.4 1707.1,295.2 1707.8,323.0 1708.5,342.5 1709.5,323.0 1710.5,302.2 1711.6,281.3 1712.7,275.7 1714.3,273.0 1716.0,270.2 1717.8,273.7 1719.2,275.7 1720.6,282.7 1722.7,284.1 1724.4,291.0 1726.2,291.0 1727.6,297.3 1729.0,291.0 1730.3,288.3 1732.2,286.9 1733.1,281.3 1734.5,270.2 1735.9,260.4 1737.3,254.9 1738.7,251.4 1740.1,250.0 1741.5,256.3 1742.9,267.4 1744.3,275.7 1745.7,281.3 1747.5,282.7 1748.4,291.0 1749.5,300.8 1750.5,307.7 1752.2,309.1 1754.0,311.9 1755.0,317.5 1756.4,309.1 1757.8,307.0 1759.6,307.7 1760.3,288.3 1760.7,270.5 1761.2,270.8 1764.7,270.8" fill="none" stroke="#0000ff" stroke-width="4.6" stroke-linejoin="round" stroke-linecap="butt"/>
<path d="M1464.6 270.5H1914.5" stroke="#000" stroke-width="1" stroke-dasharray="20.8 12.5" fill="none"/>
</g>
<path d="M1914.5 147.8h-5.0M1914.5 209.2h-5.0M1914.5 270.6h-5.0M1914.5 332.0h-5.0M1914.5 393.4h-5.0" stroke="#262626" stroke-width="1.2" fill="none"/>
<path d="M1464.5 147.8h5.0M1464.5 209.2h5.0M1464.5 270.6h5.0M1464.5 332.0h5.0M1464.5 393.4h5.0" stroke="#0000ff" stroke-width="1.2" fill="none"/>
<text x="1697" y="62" font-size="25" text-anchor="middle" fill="#000">Dunedin</text>
<text x="1464.5" y="100" font-size="12.5" text-anchor="start" fill="#000">File Updated:30-Oct-2025 15:49:02 UTC</text>
<text x="1907.4" y="106.6" font-size="14.58" text-anchor="end" fill="#000">minute resolution</text>
<rect x="1760.5125" y="104" width="3" height="314" fill="#00ffff"/>
<rect x="1755.7125" y="104" width="110.5" height="39.5" fill="#fff" stroke="#00ffff" stroke-width="1.1"/>
<text x="1761.4125000000001" y="131" font-size="20.83" text-anchor="start" fill="#000" letter-spacing="0.1">time now</text>
<text x="1463.9" y="447.5" font-size="20.83" text-anchor="middle" fill="#262626">0</text>
<text x="1520.2" y="447.5" font-size="20.83" text-anchor="middle" fill="#262626">3</text>
<text x="1576.4" y="447.5" font-size="20.83" text-anchor="middle" fill="#262626">6</text>
<text x="1632.7" y="447.5" font-size="20.83" text-anchor="middle" fill="#262626">9</text>
<text x="1688.9" y="447.5" font-size="20.83" text-anchor="middle" fill="#262626">12</text>
<text x="1745.2" y="447.5" font-size="20.83" text-anchor="middle" fill="#262626">15</text>
<text x="1801.4" y="447.5" font-size="20.83" text-anchor="middle" fill="#262626">18</text>
<text x="1857.7" y="447.5" font-size="20.83" text-anchor="middle" fill="#262626">21</text>
<text x="1913.9" y="447.5" font-size="20.83" text-anchor="middle" fill="#262626">24</text>
<text x="1455.8" y="155.3" font-size="20.83" text-anchor="end" fill="#0000ff">100</text>
<text x="1455.8" y="216.7" font-size="20.83" text-anchor="end" fill="#0000ff">50</text>
<text x="1455.8" y="278.1" font-size="20.83" text-anchor="end" fill="#0000ff">0</text>
<text x="1455.8" y="339.5" font-size="20.83" text-anchor="end" fill="#0000ff">-50</text>
<text x="1455.8" y="400.9" font-size="20.83" text-anchor="end" fill="#0000ff">-100</text>
<text x="1923.5" y="155.3" font-size="20.83" text-anchor="start" fill="#262626">10</text>
<text x="1923.5" y="216.7" font-size="20.83" text-anchor="start" fill="#262626">5</text>
<text x="1923.5" y="278.1" font-size="20.83" text-anchor="start" fill="#262626">0</text>
<text x="1923.5" y="339.5" font-size="20.83" text-anchor="start" fill="#262626">-5</text>
<text x="1923.5" y="400.9" font-size="20.83" text-anchor="start" fill="#262626">-10</text>
<text x="1688.7" y="479" font-size="22.92" text-anchor="middle" fill="#262626">UT Time /h</text>
<text x="208" y="265" font-size="16.67" text-anchor="middle" fill="#0000ff" transform="rotate(-90 208 265)">X Mean Magnetic Field / nT</text>
<text x="815" y="265" font-size="16.67" text-anchor="middle" fill="#0000ff" transform="rotate(-90 815 265)">X Mean Magnetic Field / nT</text>
<text x="1397" y="265" font-size="16.67" text-anchor="middle" fill="#0000ff" transform="rotate(-90 1397 265)">X Mean Magnetic Field / nT</text>
<text x="806" y="264" font-size="16.67" text-anchor="middle" fill="#262626" transform="rotate(-90 806 264)">Rate of Change / nT/min</text>
<text x="1373" y="264" font-size="16.67" text-anchor="middle" fill="#262626" transform="rotate(-90 1373 264)">Rate of Change / nT/min</text>
<text x="1982" y="264" font-size="16.67" text-anchor="middle" fill="#262626" transform="rotate(-90 1982 264)">Rate of Change / nT/min</text>
<rect x="275" y="537" width="112.3" height="310" fill="#e6e6e6"/>
<rect x="634.0" y="537" width="93.0" height="310" fill="#e6e6e6"/>
<rect x="452.3" y="568.0" width="8.4" height="93.8" fill="#ff0000"/>
<rect x="498.1" y="568.0" width="10.7" height="93.8" fill="#ff0000"/>
<rect x="513.3" y="568.0" width="6.3" height="93.8" fill="#ff0000"/>
<rect x="452.0" y="583.3" width="17.1" height="63.2" fill="#ffff00"/>
<rect x="497.2" y="583.3" width="15.0" height="63.2" fill="#ffff00"/>
<rect x="513.3" y="583.3" width="6.3" height="63.2" fill="#ffff00"/>
<rect x="452.0" y="598.9" width="18.3" height="32.0" fill="#00ff00"/>
<rect x="496.8" y="598.9" width="27.2" height="32.0" fill="#00ff00"/>
<rect x="569.0" y="598.9" width="6.1" height="32.0" fill="#00ff00"/>
<rect x="461.7" y="723.1" width="7.4" height="93.8" fill="#ff0000"/>
<rect x="499.1" y="723.1" width="24.9" height="93.8" fill="#ff0000"/>
<rect x="408.1" y="738.4" width="9.4" height="63.2" fill="#ffff00"/>
<rect x="454.9" y="738.4" width="14.8" height="63.2" fill="#ffff00"/>
<rect x="498.7" y="738.4" width="27.1" height="63.2" fill="#ffff00"/>
<rect x="334.3" y="754.0" width="21.8" height="32.0" fill="#00ff00"/>
<rect x="396.6" y="754.0" width="25.9" height="32.0" fill="#00ff00"/>
<rect x="438.3" y="754.0" width="6.3" height="32.0" fill="#00ff00"/>
<rect x="453.3" y="754.0" width="17.2" height="32.0" fill="#00ff00"/>
<rect x="497.9" y="754.0" width="37.6" height="32.0" fill="#00ff00"/>
<rect x="544.9" y="754.0" width="11.3" height="32.0" fill="#00ff00"/>
<rect x="569.0" y="754.0" width="7.4" height="32.0" fill="#00ff00"/>
<path d="M275 692.5H727.5" stroke="#000" stroke-width="1.1" fill="none"/>
<path d="M275.5 537V847.5H727.5M275.5 847.5v-4.5M294.3 847.5v-4.5M313.2 847.5v-4.5M332.0 847.5v-4.5M350.8 847.5v-4.5M369.7 847.5v-4.5M388.5 847.5v-4.5M407.3 847.5v-4.5M426.2 847.5v-4.5M445.0 847.5v-4.5M463.8 847.5v-4.5M482.7 847.5v-4.5M501.5 847.5v-4.5M520.3 847.5v-4.5M539.2 847.5v-4.5M558.0 847.5v-4.5M576.8 847.5v-4.5M595.7 847.5v-4.5M614.5 847.5v-4.5M633.3 847.5v-4.5M652.2 847.5v-4.5M671.0 847.5v-4.5M689.8 847.5v-4.5M708.7 847.5v-4.5M727.5 847.5v-4.5M275.5 537.5h5.5M275.5 614.5h5.5M275.5 770h5.5" stroke="#262626" stroke-width="1.2" fill="none"/>
<rect x="571.9316666666666" y="537" width="3" height="310" fill="#00ffff"/>
<rect x="567.1316666666667" y="533" width="110.5" height="39.5" fill="#fff" stroke="#00ffff" stroke-width="1.1"/>
<text x="572.8316666666667" y="559.5" font-size="20.83" text-anchor="start" fill="#000" letter-spacing="0.1">time now</text>
<text x="274.6" y="877.5" font-size="20.83" text-anchor="middle" fill="#262626">0</text>
<text x="331.1" y="877.5" font-size="20.83" text-anchor="middle" fill="#262626">3</text>
<text x="387.6" y="877.5" font-size="20.83" text-anchor="middle" fill="#262626">6</text>
<text x="444.1" y="877.5" font-size="20.83" text-anchor="middle" fill="#262626">9</text>
<text x="500.6" y="877.5" font-size="20.83" text-anchor="middle" fill="#262626">12</text>
<text x="557.1" y="877.5" font-size="20.83" text-anchor="middle" fill="#262626">15</text>
<text x="613.6" y="877.5" font-size="20.83" text-anchor="middle" fill="#262626">18</text>
<text x="670.1" y="877.5" font-size="20.83" text-anchor="middle" fill="#262626">21</text>
<text x="726.6" y="877.5" font-size="20.83" text-anchor="middle" fill="#262626">24</text>
<rect x="868" y="537" width="113.0" height="310" fill="#e6e6e6"/>
<rect x="1227.4" y="537" width="93.6" height="310" fill="#e6e6e6"/>
<rect x="1048.0" y="568.0" width="11.5" height="93.8" fill="#ff0000"/>
<rect x="1092.3" y="568.0" width="11.5" height="93.8" fill="#ff0000"/>
<rect x="1108.1" y="568.0" width="7.2" height="93.8" fill="#ff0000"/>
<rect x="944.0" y="583.3" width="6.0" height="63.2" fill="#ffff00"/>
<rect x="1047.8" y="583.3" width="11.7" height="63.2" fill="#ffff00"/>
<rect x="1072.4" y="583.3" width="6.2" height="63.2" fill="#ffff00"/>
<rect x="1086.0" y="583.3" width="18.5" height="63.2" fill="#ffff00"/>
<rect x="1107.5" y="583.3" width="8.2" height="63.2" fill="#ffff00"/>
<rect x="920.0" y="598.9" width="9.4" height="32.0" fill="#00ff00"/>
<rect x="939.1" y="598.9" width="10.9" height="32.0" fill="#00ff00"/>
<rect x="964.4" y="598.9" width="6.3" height="32.0" fill="#00ff00"/>
<rect x="974.0" y="598.9" width="6.6" height="32.0" fill="#00ff00"/>
<rect x="1016.7" y="598.9" width="11.1" height="32.0" fill="#00ff00"/>
<rect x="1047.1" y="598.9" width="19.6" height="32.0" fill="#00ff00"/>
<rect x="1069.7" y="598.9" width="10.5" height="32.0" fill="#00ff00"/>
<rect x="1085.6" y="598.9" width="33.4" height="32.0" fill="#00ff00"/>
<rect x="1151.9" y="598.9" width="6.2" height="32.0" fill="#00ff00"/>
<rect x="1050.0" y="738.4" width="6.8" height="63.2" fill="#ffff00"/>
<rect x="1111.0" y="738.4" width="6.2" height="63.2" fill="#ffff00"/>
<rect x="868.6" y="754.0" width="5.6" height="32.0" fill="#00ff00"/>
<rect x="910.9" y="754.0" width="6.2" height="32.0" fill="#00ff00"/>
<rect x="1049.0" y="754.0" width="9.0" height="32.0" fill="#00ff00"/>
<rect x="1110.0" y="754.0" width="9.0" height="32.0" fill="#00ff00"/>
<rect x="1151.9" y="754.0" width="17.9" height="32.0" fill="#00ff00"/>
<path d="M868 692.5H1321.5" stroke="#000" stroke-width="1.1" fill="none"/>
<path d="M868.5 537V847.5H1321.5M868.5 847.5v-4.5M887.4 847.5v-4.5M906.2 847.5v-4.5M925.1 847.5v-4.5M944.0 847.5v-4.5M962.9 847.5v-4.5M981.8 847.5v-4.5M1000.6 847.5v-4.5M1019.5 847.5v-4.5M1038.4 847.5v-4.5M1057.2 847.5v-4.5M1076.1 847.5v-4.5M1095.0 847.5v-4.5M1113.9 847.5v-4.5M1132.8 847.5v-4.5M1151.6 847.5v-4.5M1170.5 847.5v-4.5M1189.4 847.5v-4.5M1208.2 847.5v-4.5M1227.1 847.5v-4.5M1246.0 847.5v-4.5M1264.9 847.5v-4.5M1283.8 847.5v-4.5M1302.6 847.5v-4.5M1321.5 847.5v-4.5M868.5 537.5h5.5M868.5 614.5h5.5M868.5 770h5.5" stroke="#262626" stroke-width="1.2" fill="none"/>
<rect x="1165.59125" y="537" width="3" height="310" fill="#00ffff"/>
<rect x="1160.79125" y="533" width="110.5" height="39.5" fill="#fff" stroke="#00ffff" stroke-width="1.1"/>
<text x="1166.49125" y="559.5" font-size="20.83" text-anchor="start" fill="#000" letter-spacing="0.1">time now</text>
<text x="867.6" y="877.5" font-size="20.83" text-anchor="middle" fill="#262626">0</text>
<text x="924.2" y="877.5" font-size="20.83" text-anchor="middle" fill="#262626">3</text>
<text x="980.9" y="877.5" font-size="20.83" text-anchor="middle" fill="#262626">6</text>
<text x="1037.5" y="877.5" font-size="20.83" text-anchor="middle" fill="#262626">9</text>
<text x="1094.1" y="877.5" font-size="20.83" text-anchor="middle" fill="#262626">12</text>
<text x="1150.7" y="877.5" font-size="20.83" text-anchor="middle" fill="#262626">15</text>
<text x="1207.3" y="877.5" font-size="20.83" text-anchor="middle" fill="#262626">18</text>
<text x="1264.0" y="877.5" font-size="20.83" text-anchor="middle" fill="#262626">21</text>
<text x="1320.6" y="877.5" font-size="20.83" text-anchor="middle" fill="#262626">24</text>
<rect x="1464" y="537" width="112.7" height="310" fill="#e6e6e6"/>
<rect x="1821.7" y="537" width="92.3" height="310" fill="#e6e6e6"/>
<rect x="1643.7" y="568.0" width="18.2" height="93.8" fill="#ff0000"/>
<rect x="1687.0" y="568.0" width="26.9" height="93.8" fill="#ff0000"/>
<rect x="1643.2" y="583.3" width="18.7" height="63.2" fill="#ffff00"/>
<rect x="1687.2" y="583.3" width="27.1" height="63.2" fill="#ffff00"/>
<rect x="1515.9" y="598.9" width="6.5" height="32.0" fill="#00ff00"/>
<rect x="1603.0" y="598.9" width="6.5" height="32.0" fill="#00ff00"/>
<rect x="1642.8" y="598.9" width="32.3" height="32.0" fill="#00ff00"/>
<rect x="1680.8" y="598.9" width="34.3" height="32.0" fill="#00ff00"/>
<rect x="1744.9" y="598.9" width="6.2" height="32.0" fill="#00ff00"/>
<rect x="1695.2" y="723.1" width="6.6" height="93.8" fill="#ff0000"/>
<rect x="1645.1" y="738.4" width="7.0" height="63.2" fill="#ffff00"/>
<rect x="1694.2" y="738.4" width="7.8" height="63.2" fill="#ffff00"/>
<rect x="1705.1" y="738.4" width="8.0" height="63.2" fill="#ffff00"/>
<rect x="1605.9" y="754.0" width="15.8" height="32.0" fill="#00ff00"/>
<rect x="1644.5" y="754.0" width="15.4" height="32.0" fill="#00ff00"/>
<rect x="1693.2" y="754.0" width="9.8" height="32.0" fill="#00ff00"/>
<rect x="1704.7" y="754.0" width="9.0" height="32.0" fill="#00ff00"/>
<rect x="1751.9" y="754.0" width="8.2" height="32.0" fill="#00ff00"/>
<path d="M1464 692.5H1914.5" stroke="#000" stroke-width="1.1" fill="none"/>
<path d="M1464.5 537V847.5H1914.5M1464.5 847.5v-4.5M1483.2 847.5v-4.5M1502.0 847.5v-4.5M1520.8 847.5v-4.5M1539.5 847.5v-4.5M1558.2 847.5v-4.5M1577.0 847.5v-4.5M1595.8 847.5v-4.5M1614.5 847.5v-4.5M1633.2 847.5v-4.5M1652.0 847.5v-4.5M1670.8 847.5v-4.5M1689.5 847.5v-4.5M1708.2 847.5v-4.5M1727.0 847.5v-4.5M1745.8 847.5v-4.5M1764.5 847.5v-4.5M1783.2 847.5v-4.5M1802.0 847.5v-4.5M1820.8 847.5v-4.5M1839.5 847.5v-4.5M1858.2 847.5v-4.5M1877.0 847.5v-4.5M1895.8 847.5v-4.5M1914.5 847.5v-4.5M1464.5 537.5h5.5M1464.5 614.5h5.5M1464.5 770h5.5" stroke="#262626" stroke-width="1.2" fill="none"/>
<rect x="1760.5125" y="537" width="3" height="310" fill="#00ffff"/>
<rect x="1755.7125" y="533" width="110.5" height="39.5" fill="#fff" stroke="#00ffff" stroke-width="1.1"/>
<text x="1761.4125000000001" y="559.5" font-size="20.83" text-anchor="start" fill="#000" letter-spacing="0.1">time now</text>
<text x="1463.6" y="877.5" font-size="20.83" text-anchor="middle" fill="#262626">0</text>
<text x="1519.8" y="877.5" font-size="20.83" text-anchor="middle" fill="#262626">3</text>
<text x="1576.1" y="877.5" font-size="20.83" text-anchor="middle" fill="#262626">6</text>
<text x="1632.3" y="877.5" font-size="20.83" text-anchor="middle" fill="#262626">9</text>
<text x="1688.6" y="877.5" font-size="20.83" text-anchor="middle" fill="#262626">12</text>
<text x="1744.8" y="877.5" font-size="20.83" text-anchor="middle" fill="#262626">15</text>
<text x="1801.1" y="877.5" font-size="20.83" text-anchor="middle" fill="#262626">18</text>
<text x="1857.3" y="877.5" font-size="20.83" text-anchor="middle" fill="#262626">21</text>
<text x="1913.6" y="877.5" font-size="20.83" text-anchor="middle" fill="#262626">24</text>
<text x="736" y="606" font-size="16.67" text-anchor="start" fill="#1a1a1a" font-weight="bold">dB/dT Alert</text>
<text x="736" y="761" font-size="16.67" text-anchor="start" fill="#0000ff" font-weight="bold">B Alert</text>
<text x="1330" y="606" font-size="16.67" text-anchor="start" fill="#1a1a1a" font-weight="bold">dB/dT Alert</text>
<text x="1330" y="761" font-size="16.67" text-anchor="start" fill="#0000ff" font-weight="bold">B Alert</text>
<rect x="268" y="881.5" width="160" height="40.5" fill="#00ff00"/>
<rect x="432" y="881.5" width="197.5" height="40.5" fill="#ffff00"/>
<rect x="629" y="881.5" width="166" height="40.5" fill="#ff0000"/>
<text x="275.5" y="909" font-size="20.83" text-anchor="start" fill="#000">minor activity</text>
<text x="439.5" y="909" font-size="20.83" text-anchor="start" fill="#000">moderate activity</text>
<text x="636" y="909" font-size="20.83" text-anchor="start" fill="#000">strong activity</text>
<rect x="1252" y="881.5" width="195" height="40.5" fill="#00ff00"/>
<rect x="1449" y="876" width="95" height="51.5" fill="#00ff00"/>
<text x="1258.8" y="909" font-size="20.83" text-anchor="start" fill="#000" letter-spacing="0.17">Current Warning:</text>
<text x="1456.5" y="912.5" font-size="31.25" text-anchor="start" fill="#000">3.0/9</text>
<rect x="275" y="935" width="409.1" height="331" fill="#e6e6e6"/>
<rect x="1572.5" y="935" width="341.5" height="331" fill="#e6e6e6"/>
<rect x="275.5" y="1242.0" width="11.38" height="24.5" fill="#00ff00" stroke="#000" stroke-width="1"/>
<rect x="434.8" y="1242.0" width="11.38" height="24.5" fill="#00ff00" stroke="#000" stroke-width="1"/>
<rect x="457.6" y="1254.2" width="11.38" height="12.3" fill="#00ff00" stroke="#000" stroke-width="1"/>
<rect x="469.0" y="1242.0" width="11.38" height="24.5" fill="#00ff00" stroke="#000" stroke-width="1"/>
<rect x="491.8" y="1242.0" width="11.38" height="24.5" fill="#00ff00" stroke="#000" stroke-width="1"/>
<rect x="503.1" y="1242.0" width="11.38" height="24.5" fill="#00ff00" stroke="#000" stroke-width="1"/>
<rect x="514.5" y="1242.0" width="11.38" height="24.5" fill="#00ff00" stroke="#000" stroke-width="1"/>
<rect x="525.9" y="1242.0" width="11.38" height="24.5" fill="#00ff00" stroke="#000" stroke-width="1"/>
<rect x="537.3" y="1229.7" width="11.38" height="36.8" fill="#00ff00" stroke="#000" stroke-width="1"/>
<rect x="548.7" y="1217.5" width="11.38" height="49.0" fill="#00ff00" stroke="#000" stroke-width="1"/>
<rect x="628.3" y="1254.2" width="11.38" height="12.3" fill="#00ff00" stroke="#000" stroke-width="1"/>
<rect x="662.5" y="1254.2" width="11.38" height="12.3" fill="#00ff00" stroke="#000" stroke-width="1"/>
<rect x="719.4" y="1242.0" width="11.38" height="24.5" fill="#00ff00" stroke="#000" stroke-width="1"/>
<rect x="730.8" y="1242.0" width="11.38" height="24.5" fill="#00ff00" stroke="#000" stroke-width="1"/>
<rect x="742.2" y="1242.0" width="11.38" height="24.5" fill="#00ff00" stroke="#000" stroke-width="1"/>
<rect x="753.5" y="1242.0" width="11.38" height="24.5" fill="#00ff00" stroke="#000" stroke-width="1"/>
<rect x="764.9" y="1217.5" width="11.38" height="49.0" fill="#00ff00" stroke="#000" stroke-width="1"/>
<rect x="776.3" y="1205.2" width="11.38" height="61.3" fill="#00ff00" stroke="#000" stroke-width="1"/>
<rect x="787.7" y="1217.5" width="11.38" height="49.0" fill="#00ff00" stroke="#000" stroke-width="1"/>
<rect x="799.1" y="1242.0" width="11.38" height="24.5" fill="#00ff00" stroke="#000" stroke-width="1"/>
<rect x="810.5" y="1254.2" width="11.38" height="12.3" fill="#00ff00" stroke="#000" stroke-width="1"/>
<rect x="821.8" y="1229.7" width="11.38" height="36.8" fill="#00ff00" stroke="#000" stroke-width="1"/>
<rect x="833.2" y="1254.2" width="11.38" height="12.3" fill="#00ff00" stroke="#000" stroke-width="1"/>
<rect x="867.4" y="1242.0" width="11.38" height="24.5" fill="#00ff00" stroke="#000" stroke-width="1"/>
<rect x="912.9" y="1242.0" width="11.38" height="24.5" fill="#00ff00" stroke="#000" stroke-width="1"/>
<rect x="924.3" y="1107.1" width="11.38" height="159.4" fill="#ffff00" stroke="#000" stroke-width="1"/>
<rect x="935.7" y="1033.6" width="11.38" height="232.9" fill="#ff0000" stroke="#000" stroke-width="1"/>
<rect x="947.0" y="1119.4" width="11.38" height="147.1" fill="#ffff00" stroke="#000" stroke-width="1"/>
<rect x="958.4" y="1131.6" width="11.38" height="134.9" fill="#ffff00" stroke="#000" stroke-width="1"/>
<rect x="969.8" y="1192.9" width="11.38" height="73.6" fill="#00ff00" stroke="#000" stroke-width="1"/>
<rect x="992.6" y="1254.2" width="11.38" height="12.3" fill="#00ff00" stroke="#000" stroke-width="1"/>
<rect x="1003.9" y="1242.0" width="11.38" height="24.5" fill="#00ff00" stroke="#000" stroke-width="1"/>
<rect x="1015.3" y="1229.7" width="11.38" height="36.8" fill="#00ff00" stroke="#000" stroke-width="1"/>
<rect x="1060.9" y="1229.7" width="11.38" height="36.8" fill="#00ff00" stroke="#000" stroke-width="1"/>
<rect x="1072.2" y="1242.0" width="11.38" height="24.5" fill="#00ff00" stroke="#000" stroke-width="1"/>
<rect x="1083.6" y="1082.6" width="11.38" height="183.9" fill="#ffff00" stroke="#000" stroke-width="1"/>
<rect x="1095.0" y="1094.9" width="11.38" height="171.6" fill="#ffff00" stroke="#000" stroke-width="1"/>
<rect x="1106.4" y="1058.1" width="11.38" height="208.4" fill="#ffff00" stroke="#000" stroke-width="1"/>
<rect x="1117.8" y="1045.8" width="11.38" height="220.7" fill="#ffff00" stroke="#000" stroke-width="1"/>
<rect x="1129.1" y="1131.6" width="11.38" height="134.9" fill="#ffff00" stroke="#000" stroke-width="1"/>
<rect x="1140.5" y="1082.6" width="11.38" height="183.9" fill="#ffff00" stroke="#000" stroke-width="1"/>
<rect x="1151.9" y="1009.1" width="11.38" height="257.4" fill="#ff0000" stroke="#000" stroke-width="1"/>
<rect x="1163.3" y="1094.9" width="11.38" height="171.6" fill="#ffff00" stroke="#000" stroke-width="1"/>
<rect x="1174.7" y="1242.0" width="11.38" height="24.5" fill="#00ff00" stroke="#000" stroke-width="1"/>
<rect x="1186.1" y="1242.0" width="11.38" height="24.5" fill="#00ff00" stroke="#000" stroke-width="1"/>
<rect x="1197.4" y="1242.0" width="11.38" height="24.5" fill="#00ff00" stroke="#000" stroke-width="1"/>
<rect x="1254.3" y="1242.0" width="11.38" height="24.5" fill="#00ff00" stroke="#000" stroke-width="1"/>
<rect x="1265.7" y="1242.0" width="11.38" height="24.5" fill="#00ff00" stroke="#000" stroke-width="1"/>
<rect x="1277.1" y="1242.0" width="11.38" height="24.5" fill="#00ff00" stroke="#000" stroke-width="1"/>
<rect x="1299.9" y="1217.5" width="11.38" height="49.0" fill="#00ff00" stroke="#000" stroke-width="1"/>
<rect x="1311.3" y="1242.0" width="11.38" height="24.5" fill="#00ff00" stroke="#000" stroke-width="1"/>
<rect x="1322.6" y="1217.5" width="11.38" height="49.0" fill="#00ff00" stroke="#000" stroke-width="1"/>
<rect x="1334.0" y="1217.5" width="11.38" height="49.0" fill="#00ff00" stroke="#000" stroke-width="1"/>
<rect x="1345.4" y="1205.2" width="11.38" height="61.3" fill="#00ff00" stroke="#000" stroke-width="1"/>
<path d="M275.5 935V1266.5H1914.5M275.5 1266.5v-16.4M343.8 1266.5v-16.4M412.1 1266.5v-16.4M480.4 1266.5v-16.4M548.7 1266.5v-16.4M617.0 1266.5v-16.4M685.2 1266.5v-16.4M753.5 1266.5v-16.4M821.8 1266.5v-16.4M890.1 1266.5v-16.4M958.4 1266.5v-16.4M1026.7 1266.5v-16.4M1095.0 1266.5v-16.4M1163.3 1266.5v-16.4M1231.6 1266.5v-16.4M1299.9 1266.5v-16.4M1368.2 1266.5v-16.4M1436.5 1266.5v-16.4M1504.8 1266.5v-16.4M1573.0 1266.5v-16.4M1641.3 1266.5v-16.4M1709.6 1266.5v-16.4M1777.9 1266.5v-16.4M1846.2 1266.5v-16.4M1914.5 1266.5v-16.4M275.5 1266.5h16.4M275.5 1192.9h16.4M275.5 1119.4h16.4M275.5 1045.8h16.4M275.5 972.3h16.4" stroke="#262626" stroke-width="1.2" fill="none"/>
<rect x="1355.3570833333333" y="935" width="3" height="331" fill="#00ffff"/>
<rect x="1350.7570833333334" y="934" width="110.5" height="39" fill="#fff" stroke="#00ffff" stroke-width="1.1"/>
<text x="1356.4570833333335" y="960.5" font-size="20.83" text-anchor="start" fill="#000" letter-spacing="0.1">time now</text>
<text x="275.5" y="1295.5" font-size="20.83" text-anchor="middle" fill="#262626">0</text>
<text x="343.8" y="1295.5" font-size="20.83" text-anchor="middle" fill="#262626">1</text>
<text x="412.1" y="1295.5" font-size="20.83" text-anchor="middle" fill="#262626">2</text>
<text x="480.4" y="1295.5" font-size="20.83" text-anchor="middle" fill="#262626">3</text>
<text x="548.7" y="1295.5" font-size="20.83" text-anchor="middle" fill="#262626">4</text>
<text x="617.0" y="1295.5" font-size="20.83" text-anchor="middle" fill="#262626">5</text>
<text x="685.2" y="1295.5" font-size="20.83" text-anchor="middle" fill="#262626">6</text>
<text x="753.5" y="1295.5" font-size="20.83" text-anchor="middle" fill="#262626">7</text>
<text x="821.8" y="1295.5" font-size="20.83" text-anchor="middle" fill="#262626">8</text>
<text x="890.1" y="1295.5" font-size="20.83" text-anchor="middle" fill="#262626">9</text>
<text x="958.4" y="1295.5" font-size="20.83" text-anchor="middle" fill="#262626">10</text>
<text x="1026.7" y="1295.5" font-size="20.83" text-anchor="middle" fill="#262626">11</text>
<text x="1095.0" y="1295.5" font-size="20.83" text-anchor="middle" fill="#262626">12</text>
<text x="1163.3" y="1295.5" font-size="20.83" text-anchor="middle" fill="#262626">13</text>
<text x="1231.6" y="1295.5" font-size="20.83" text-anchor="middle" fill="#262626">14</text>
<text x="1299.9" y="1295.5" font-size="20.83" text-anchor="middle" fill="#262626">15</text>
<text x="1368.2" y="1295.5" font-size="20.83" text-anchor="middle" fill="#262626">16</text>
<text x="1436.5" y="1295.5" font-size="20.83" text-anchor="middle" fill="#262626">17</text>
<text x="1504.8" y="1295.5" font-size="20.83" text-anchor="middle" fill="#262626">18</text>
<text x="1573.0" y="1295.5" font-size="20.83" text-anchor="middle" fill="#262626">19</text>
<text x="1641.3" y="1295.5" font-size="20.83" text-anchor="middle" fill="#262626">20</text>
<text x="1709.6" y="1295.5" font-size="20.83" text-anchor="middle" fill="#262626">21</text>
<text x="1777.9" y="1295.5" font-size="20.83" text-anchor="middle" fill="#262626">22</text>
<text x="1846.2" y="1295.5" font-size="20.83" text-anchor="middle" fill="#262626">23</text>
<text x="265" y="1274.0" font-size="20.83" text-anchor="end" fill="#262626">0</text>
<text x="265" y="1200.4" font-size="20.83" text-anchor="end" fill="#262626">2</text>
<text x="265" y="1126.9" font-size="20.83" text-anchor="end" fill="#262626">4</text>
<text x="265" y="1053.3" font-size="20.83" text-anchor="end" fill="#262626">6</text>
<text x="265" y="979.8" font-size="20.83" text-anchor="end" fill="#262626">8</text>
<text x="1094.8" y="1327" font-size="22.92" text-anchor="middle" fill="#262626" letter-spacing="0.2">Time UTC / h</text>
<text x="240.3" y="1100.5" font-size="22.92" text-anchor="middle" fill="#262626" transform="rotate(-90 240.3 1100.5)" letter-spacing="0.3">Warning Values</text>
<text x="1087.5" y="1359" font-size="20.83" text-anchor="middle" fill="#000">Last updated: Fri 31 Oct 2025 04:50:36 NZDT</text>
</svg>
</body></html>
